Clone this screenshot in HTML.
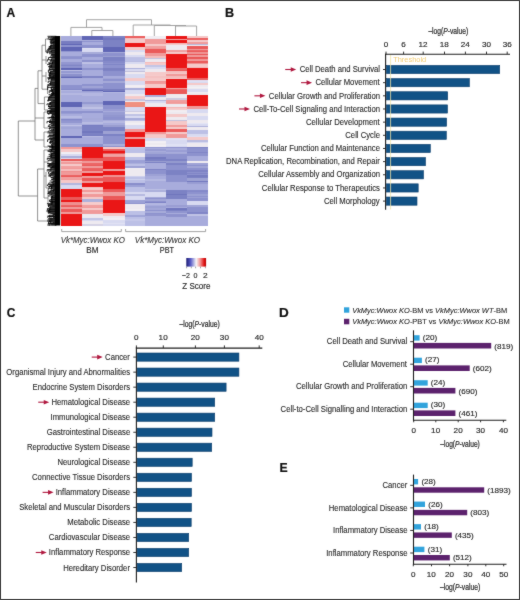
<!DOCTYPE html>
<html><head><meta charset="utf-8"><style>
html,body{margin:0;padding:0;background:#fff;}
#fig{position:relative;width:520px;height:600px;overflow:hidden;background:#fff;}
svg{position:absolute;left:0;top:0;will-change:transform;font-family:"Liberation Sans", sans-serif;}
</style></head><body><div id="fig">
<svg width="520" height="600" viewBox="0 0 520 600">
<defs><filter id="soft" x="0" y="0" width="1" height="1" color-interpolation-filters="sRGB"><feConvolveMatrix order="3" kernelMatrix="1 2 1 2 28 2 1 2 1" divisor="40" edgeMode="duplicate"/></filter></defs>
<g filter="url(#soft)"><rect x="0" y="0" width="520" height="600" fill="#fff"/>
<text x="6.60" y="16.50" font-size="12.4" fill="#111" font-weight="normal" textLength="8.73" lengthAdjust="spacingAndGlyphs" stroke="#111" stroke-width="0.2"><tspan font-style="normal" font-weight="bold">A</tspan></text>
<text x="224.98" y="16.70" font-size="12.4" fill="#111" font-weight="normal" textLength="9.12" lengthAdjust="spacingAndGlyphs" stroke="#111" stroke-width="0.2"><tspan font-style="normal" font-weight="bold">B</tspan></text>
<text x="6.72" y="316.50" font-size="12.4" fill="#111" font-weight="normal" textLength="8.60" lengthAdjust="spacingAndGlyphs" stroke="#111" stroke-width="0.2"><tspan font-style="normal" font-weight="bold">C</tspan></text>
<text x="279.12" y="316.90" font-size="12.4" fill="#111" font-weight="normal" textLength="9.75" lengthAdjust="spacingAndGlyphs" stroke="#111" stroke-width="0.2"><tspan font-style="normal" font-weight="bold">D</tspan></text>
<text x="279.41" y="471.50" font-size="12.4" fill="#111" font-weight="normal" textLength="8.15" lengthAdjust="spacingAndGlyphs" stroke="#111" stroke-width="0.2"><tspan font-style="normal" font-weight="bold">E</tspan></text>
<g shape-rendering="crispEdges">
<rect x="61.00" y="36.00" width="21.00" height="4.60" fill="#a8acdc"/>
<rect x="61.00" y="40.60" width="21.00" height="0.80" fill="#8d92ce"/>
<rect x="61.00" y="41.40" width="21.00" height="3.40" fill="#6066b5"/>
<rect x="61.00" y="41.40" width="21.00" height="2.11" fill="#777cc0"/>
<rect x="61.00" y="44.80" width="21.00" height="2.00" fill="#8d92ce"/>
<rect x="61.00" y="46.80" width="21.00" height="4.00" fill="#6066b5"/>
<rect x="61.00" y="46.80" width="21.00" height="1.55" fill="#5e64b4"/>
<rect x="61.00" y="50.80" width="21.00" height="6.20" fill="#a8acdc"/>
<rect x="61.00" y="50.80" width="21.00" height="1.09" fill="#9297d0"/>
<rect x="61.00" y="56.10" width="21.00" height="0.90" fill="#9196cf"/>
<rect x="61.00" y="57.00" width="21.00" height="2.00" fill="#8d92ce"/>
<rect x="61.00" y="59.00" width="21.00" height="6.00" fill="#a8acdc"/>
<rect x="61.00" y="62.28" width="21.00" height="1.32" fill="#9397d0"/>
<rect x="61.00" y="64.37" width="21.00" height="0.63" fill="#8c91cc"/>
<rect x="61.00" y="65.00" width="21.00" height="2.50" fill="#8d92ce"/>
<rect x="61.00" y="65.00" width="21.00" height="1.00" fill="#8085c6"/>
<rect x="61.00" y="67.50" width="21.00" height="2.00" fill="#6066b5"/>
<rect x="61.00" y="67.50" width="21.00" height="1.56" fill="#5e64b3"/>
<rect x="61.00" y="69.50" width="21.00" height="6.20" fill="#a8acdc"/>
<rect x="61.00" y="69.50" width="21.00" height="1.12" fill="#bdc0e4"/>
<rect x="61.00" y="71.41" width="21.00" height="1.34" fill="#9499d1"/>
<rect x="61.00" y="74.13" width="21.00" height="1.57" fill="#8c91cc"/>
<rect x="61.00" y="75.70" width="21.00" height="2.00" fill="#6066b5"/>
<rect x="61.00" y="75.70" width="21.00" height="1.59" fill="#7e83c3"/>
<rect x="61.00" y="77.70" width="21.00" height="7.00" fill="#a8acdc"/>
<rect x="61.00" y="84.70" width="21.00" height="5.30" fill="#8d92ce"/>
<rect x="61.00" y="89.27" width="21.00" height="0.73" fill="#8388c8"/>
<rect x="61.00" y="90.00" width="21.00" height="12.00" fill="#a8acdc"/>
<rect x="61.00" y="90.00" width="21.00" height="1.02" fill="#b4b8e1"/>
<rect x="61.00" y="92.56" width="21.00" height="2.17" fill="#b5b8e1"/>
<rect x="61.00" y="102.00" width="21.00" height="5.00" fill="#6066b5"/>
<rect x="61.00" y="105.29" width="21.00" height="1.71" fill="#5f65b4"/>
<rect x="61.00" y="107.00" width="21.00" height="4.00" fill="#a8acdc"/>
<rect x="61.00" y="111.00" width="21.00" height="2.00" fill="#8d92ce"/>
<rect x="61.00" y="113.00" width="21.00" height="6.00" fill="#a8acdc"/>
<rect x="61.00" y="113.00" width="21.00" height="1.18" fill="#979cd3"/>
<rect x="61.00" y="116.24" width="21.00" height="1.29" fill="#b8bbe3"/>
<rect x="61.00" y="119.00" width="21.00" height="2.00" fill="#8d92ce"/>
<rect x="61.00" y="119.00" width="21.00" height="1.07" fill="#8489c9"/>
<rect x="61.00" y="121.00" width="21.00" height="6.00" fill="#a8acdc"/>
<rect x="61.00" y="121.00" width="21.00" height="1.63" fill="#9297d0"/>
<rect x="61.00" y="124.71" width="21.00" height="1.66" fill="#c0c3e6"/>
<rect x="61.00" y="127.00" width="21.00" height="2.00" fill="#8d92ce"/>
<rect x="61.00" y="127.00" width="21.00" height="1.89" fill="#a0a5d6"/>
<rect x="61.00" y="129.00" width="21.00" height="7.00" fill="#a8acdc"/>
<rect x="61.00" y="136.00" width="21.00" height="2.00" fill="#6066b5"/>
<rect x="61.00" y="138.00" width="21.00" height="6.00" fill="#a8acdc"/>
<rect x="61.00" y="144.00" width="21.00" height="2.50" fill="#8d92ce"/>
<rect x="61.00" y="146.50" width="21.00" height="2.50" fill="#f09a9a"/>
<rect x="61.00" y="149.00" width="21.00" height="3.20" fill="#f5c9c9"/>
<rect x="61.00" y="152.20" width="21.00" height="2.00" fill="#eeeaf0"/>
<rect x="61.00" y="152.20" width="21.00" height="2.00" fill="#f1eef3"/>
<rect x="61.00" y="154.20" width="21.00" height="4.40" fill="#d8daf1"/>
<rect x="61.00" y="155.96" width="21.00" height="1.84" fill="#abafda"/>
<rect x="61.00" y="158.60" width="21.00" height="1.90" fill="#ea5a5a"/>
<rect x="61.00" y="160.50" width="21.00" height="1.90" fill="#f5c9c9"/>
<rect x="61.00" y="160.50" width="21.00" height="1.90" fill="#f4bbbb"/>
<rect x="61.00" y="162.40" width="21.00" height="1.90" fill="#f09a9a"/>
<rect x="61.00" y="164.30" width="21.00" height="1.90" fill="#f5c9c9"/>
<rect x="61.00" y="166.20" width="21.00" height="3.20" fill="#f09a9a"/>
<rect x="61.00" y="166.20" width="21.00" height="1.93" fill="#f1a1a1"/>
<rect x="61.00" y="169.40" width="21.00" height="1.90" fill="#f5c9c9"/>
<rect x="61.00" y="169.40" width="21.00" height="1.28" fill="#f4bcbc"/>
<rect x="61.00" y="171.30" width="21.00" height="3.20" fill="#f09a9a"/>
<rect x="61.00" y="171.30" width="21.00" height="1.19" fill="#ef8f90"/>
<rect x="61.00" y="174.50" width="21.00" height="2.50" fill="#ea5a5a"/>
<rect x="61.00" y="174.50" width="21.00" height="1.39" fill="#eb6363"/>
<rect x="61.00" y="177.00" width="21.00" height="3.20" fill="#f09a9a"/>
<rect x="61.00" y="177.00" width="21.00" height="2.16" fill="#f1a0a0"/>
<rect x="61.00" y="180.20" width="21.00" height="3.10" fill="#f5c9c9"/>
<rect x="61.00" y="183.30" width="21.00" height="5.70" fill="#d8daf1"/>
<rect x="61.00" y="183.30" width="21.00" height="2.16" fill="#b3b6de"/>
<rect x="61.00" y="189.00" width="21.00" height="7.70" fill="#ea1616"/>
<rect x="61.00" y="196.70" width="21.00" height="3.20" fill="#ea5a5a"/>
<rect x="61.00" y="199.90" width="21.00" height="2.50" fill="#ea1616"/>
<rect x="61.00" y="202.40" width="21.00" height="2.60" fill="#f09a9a"/>
<rect x="61.00" y="202.40" width="21.00" height="2.15" fill="#ef8f8f"/>
<rect x="61.00" y="205.00" width="21.00" height="1.80" fill="#ea5a5a"/>
<rect x="61.00" y="205.00" width="21.00" height="1.05" fill="#eb6363"/>
<rect x="61.00" y="206.80" width="21.00" height="2.60" fill="#f09a9a"/>
<rect x="61.00" y="209.40" width="21.00" height="2.50" fill="#ea5a5a"/>
<rect x="61.00" y="211.90" width="21.00" height="1.90" fill="#f09a9a"/>
<rect x="61.00" y="213.80" width="21.00" height="11.70" fill="#ea1616"/>
<rect x="82.00" y="36.00" width="21.20" height="4.00" fill="#6066b5"/>
<rect x="82.00" y="40.00" width="21.20" height="2.00" fill="#8d92ce"/>
<rect x="82.00" y="40.00" width="21.20" height="1.17" fill="#adb0dc"/>
<rect x="82.00" y="42.00" width="21.20" height="2.80" fill="#a8acdc"/>
<rect x="82.00" y="44.80" width="21.20" height="2.70" fill="#8d92ce"/>
<rect x="82.00" y="47.50" width="21.20" height="4.00" fill="#d8daf1"/>
<rect x="82.00" y="47.50" width="21.20" height="1.12" fill="#e1e3f4"/>
<rect x="82.00" y="51.50" width="21.20" height="5.50" fill="#8d92ce"/>
<rect x="82.00" y="51.50" width="21.20" height="2.12" fill="#a7abd9"/>
<rect x="82.00" y="57.00" width="21.20" height="3.00" fill="#a8acdc"/>
<rect x="82.00" y="60.00" width="21.20" height="2.00" fill="#8d92ce"/>
<rect x="82.00" y="62.00" width="21.20" height="6.00" fill="#a8acdc"/>
<rect x="82.00" y="62.00" width="21.20" height="2.06" fill="#bec1e5"/>
<rect x="82.00" y="68.00" width="21.20" height="2.00" fill="#8d92ce"/>
<rect x="82.00" y="70.00" width="21.20" height="6.00" fill="#a8acdc"/>
<rect x="82.00" y="76.00" width="21.20" height="2.00" fill="#8d92ce"/>
<rect x="82.00" y="76.00" width="21.20" height="1.70" fill="#8085c6"/>
<rect x="82.00" y="78.00" width="21.20" height="6.00" fill="#a8acdc"/>
<rect x="82.00" y="84.00" width="21.20" height="4.70" fill="#8d92ce"/>
<rect x="82.00" y="86.39" width="21.20" height="1.75" fill="#a0a4d6"/>
<rect x="82.00" y="88.70" width="21.20" height="2.70" fill="#6066b5"/>
<rect x="82.00" y="88.70" width="21.20" height="1.18" fill="#8085c4"/>
<rect x="82.00" y="90.65" width="21.20" height="0.75" fill="#767cbf"/>
<rect x="82.00" y="91.40" width="21.20" height="13.60" fill="#a8acdc"/>
<rect x="82.00" y="91.40" width="21.20" height="1.03" fill="#9ca0d5"/>
<rect x="82.00" y="93.49" width="21.20" height="2.01" fill="#b4b7e1"/>
<rect x="82.00" y="102.02" width="21.20" height="1.53" fill="#9398d0"/>
<rect x="82.00" y="105.00" width="21.20" height="2.00" fill="#d8daf1"/>
<rect x="82.00" y="105.00" width="21.20" height="1.75" fill="#aeb1db"/>
<rect x="82.00" y="107.00" width="21.20" height="4.00" fill="#a8acdc"/>
<rect x="82.00" y="107.00" width="21.20" height="2.20" fill="#bfc2e5"/>
<rect x="82.00" y="111.00" width="21.20" height="2.00" fill="#8d92ce"/>
<rect x="82.00" y="113.00" width="21.20" height="5.00" fill="#a8acdc"/>
<rect x="82.00" y="118.00" width="21.20" height="2.00" fill="#8d92ce"/>
<rect x="82.00" y="118.00" width="21.20" height="2.00" fill="#a6aad9"/>
<rect x="82.00" y="120.00" width="21.20" height="5.00" fill="#a8acdc"/>
<rect x="82.00" y="122.31" width="21.20" height="2.15" fill="#b9bde3"/>
<rect x="82.00" y="125.00" width="21.20" height="11.00" fill="#7c82c4"/>
<rect x="82.00" y="125.00" width="21.20" height="1.26" fill="#777dc1"/>
<rect x="82.00" y="131.31" width="21.20" height="1.27" fill="#7177bd"/>
<rect x="82.00" y="134.76" width="21.20" height="1.24" fill="#767cc0"/>
<rect x="82.00" y="136.00" width="21.20" height="8.00" fill="#a8acdc"/>
<rect x="82.00" y="136.00" width="21.20" height="1.11" fill="#b9bce3"/>
<rect x="82.00" y="144.00" width="21.20" height="2.50" fill="#8d92ce"/>
<rect x="82.00" y="146.50" width="21.20" height="11.50" fill="#ea1616"/>
<rect x="82.00" y="158.00" width="21.20" height="2.50" fill="#ea5a5a"/>
<rect x="82.00" y="160.50" width="21.20" height="2.50" fill="#f09a9a"/>
<rect x="82.00" y="163.00" width="21.20" height="2.60" fill="#ea5a5a"/>
<rect x="82.00" y="163.00" width="21.20" height="2.14" fill="#ec6666"/>
<rect x="82.00" y="165.60" width="21.20" height="2.40" fill="#f09a9a"/>
<rect x="82.00" y="168.00" width="21.20" height="2.60" fill="#ea5a5a"/>
<rect x="82.00" y="168.00" width="21.20" height="2.01" fill="#eb6161"/>
<rect x="82.00" y="170.60" width="21.20" height="2.60" fill="#f09a9a"/>
<rect x="82.00" y="173.20" width="21.20" height="2.50" fill="#ea1616"/>
<rect x="82.00" y="175.70" width="21.20" height="2.60" fill="#f09a9a"/>
<rect x="82.00" y="175.70" width="21.20" height="1.42" fill="#f1a0a0"/>
<rect x="82.00" y="178.30" width="21.20" height="2.50" fill="#ea5a5a"/>
<rect x="82.00" y="180.80" width="21.20" height="2.50" fill="#f09a9a"/>
<rect x="82.00" y="183.30" width="21.20" height="3.90" fill="#ea1616"/>
<rect x="82.00" y="187.20" width="21.20" height="2.50" fill="#f5c9c9"/>
<rect x="82.00" y="187.20" width="21.20" height="1.27" fill="#f4bfc0"/>
<rect x="82.00" y="189.70" width="21.20" height="1.90" fill="#f09a9a"/>
<rect x="82.00" y="191.60" width="21.20" height="2.60" fill="#f5c9c9"/>
<rect x="82.00" y="194.20" width="21.20" height="2.50" fill="#f09a9a"/>
<rect x="82.00" y="196.70" width="21.20" height="2.50" fill="#f5c9c9"/>
<rect x="82.00" y="199.20" width="21.20" height="2.60" fill="#d8daf1"/>
<rect x="82.00" y="199.20" width="21.20" height="2.31" fill="#aeb1db"/>
<rect x="82.00" y="201.80" width="21.20" height="3.10" fill="#f5c9c9"/>
<rect x="82.00" y="201.80" width="21.20" height="1.84" fill="#f6cccc"/>
<rect x="82.00" y="204.90" width="21.20" height="2.60" fill="#f09a9a"/>
<rect x="82.00" y="204.90" width="21.20" height="1.84" fill="#f19f9f"/>
<rect x="82.00" y="207.50" width="21.20" height="2.50" fill="#f5c9c9"/>
<rect x="82.00" y="210.00" width="21.20" height="3.80" fill="#f09a9a"/>
<rect x="82.00" y="212.57" width="21.20" height="1.23" fill="#f09d9d"/>
<rect x="82.00" y="213.80" width="21.20" height="4.20" fill="#eeeaf0"/>
<rect x="82.00" y="218.00" width="21.20" height="3.00" fill="#d8daf1"/>
<rect x="82.00" y="218.00" width="21.20" height="2.01" fill="#c3c6e6"/>
<rect x="82.00" y="221.00" width="21.20" height="4.50" fill="#eeeaf0"/>
<rect x="82.00" y="223.97" width="21.20" height="1.53" fill="#d5d3e5"/>
<rect x="103.20" y="36.00" width="21.30" height="10.80" fill="#7c82c4"/>
<rect x="103.20" y="38.34" width="21.30" height="1.22" fill="#7278be"/>
<rect x="103.20" y="46.80" width="21.30" height="4.70" fill="#6066b5"/>
<rect x="103.20" y="51.50" width="21.30" height="4.00" fill="#8d92ce"/>
<rect x="103.20" y="51.50" width="21.30" height="1.87" fill="#a6aad9"/>
<rect x="103.20" y="55.50" width="21.30" height="5.50" fill="#7c82c4"/>
<rect x="103.20" y="55.50" width="21.30" height="1.98" fill="#9ca0d2"/>
<rect x="103.20" y="61.00" width="21.30" height="7.00" fill="#8d92ce"/>
<rect x="103.20" y="61.00" width="21.30" height="2.23" fill="#858ac9"/>
<rect x="103.20" y="64.25" width="21.30" height="1.04" fill="#7f85c6"/>
<rect x="103.20" y="68.00" width="21.30" height="1.50" fill="#6066b5"/>
<rect x="103.20" y="68.00" width="21.30" height="1.50" fill="#7c81c2"/>
<rect x="103.20" y="69.50" width="21.30" height="6.50" fill="#8d92ce"/>
<rect x="103.20" y="69.50" width="21.30" height="1.69" fill="#7d82c4"/>
<rect x="103.20" y="76.00" width="21.30" height="2.00" fill="#a8acdc"/>
<rect x="103.20" y="78.00" width="21.30" height="10.70" fill="#8d92ce"/>
<rect x="103.20" y="78.00" width="21.30" height="1.21" fill="#a0a4d6"/>
<rect x="103.20" y="81.03" width="21.30" height="2.16" fill="#a5a9d8"/>
<rect x="103.20" y="88.70" width="21.30" height="3.30" fill="#6066b5"/>
<rect x="103.20" y="88.70" width="21.30" height="2.15" fill="#797ec0"/>
<rect x="103.20" y="92.00" width="21.30" height="8.80" fill="#a8acdc"/>
<rect x="103.20" y="92.00" width="21.30" height="1.11" fill="#b6bae2"/>
<rect x="103.20" y="100.80" width="21.30" height="4.20" fill="#6066b5"/>
<rect x="103.20" y="103.50" width="21.30" height="1.44" fill="#5f65b4"/>
<rect x="103.20" y="105.00" width="21.30" height="4.00" fill="#8d92ce"/>
<rect x="103.20" y="109.00" width="21.30" height="8.00" fill="#a8acdc"/>
<rect x="103.20" y="109.00" width="21.30" height="1.55" fill="#999dd4"/>
<rect x="103.20" y="112.36" width="21.30" height="2.23" fill="#989dd3"/>
<rect x="103.20" y="115.29" width="21.30" height="1.22" fill="#9196cf"/>
<rect x="103.20" y="117.00" width="21.30" height="2.00" fill="#8d92ce"/>
<rect x="103.20" y="119.00" width="21.30" height="6.00" fill="#a8acdc"/>
<rect x="103.20" y="119.00" width="21.30" height="1.12" fill="#8d92cd"/>
<rect x="103.20" y="120.85" width="21.30" height="1.89" fill="#b6b9e2"/>
<rect x="103.20" y="125.00" width="21.30" height="11.00" fill="#7c82c4"/>
<rect x="103.20" y="125.00" width="21.30" height="1.55" fill="#9a9ed1"/>
<rect x="103.20" y="131.43" width="21.30" height="2.28" fill="#9ea2d3"/>
<rect x="103.20" y="136.00" width="21.30" height="8.00" fill="#8d92ce"/>
<rect x="103.20" y="144.00" width="21.30" height="2.50" fill="#8d92ce"/>
<rect x="103.20" y="144.00" width="21.30" height="2.12" fill="#abafdb"/>
<rect x="103.20" y="146.50" width="21.30" height="2.50" fill="#f5c9c9"/>
<rect x="103.20" y="149.00" width="21.30" height="2.00" fill="#ea5a5a"/>
<rect x="103.20" y="149.00" width="21.30" height="1.45" fill="#eb6161"/>
<rect x="103.20" y="151.00" width="21.30" height="1.50" fill="#ea1616"/>
<rect x="103.20" y="152.50" width="21.30" height="1.70" fill="#ea5a5a"/>
<rect x="103.20" y="154.20" width="21.30" height="2.50" fill="#f09a9a"/>
<rect x="103.20" y="154.20" width="21.30" height="2.05" fill="#f1a2a2"/>
<rect x="103.20" y="156.70" width="21.30" height="3.80" fill="#ea5a5a"/>
<rect x="103.20" y="156.70" width="21.30" height="1.15" fill="#ea5555"/>
<rect x="103.20" y="160.50" width="21.30" height="8.90" fill="#ea1616"/>
<rect x="103.20" y="169.40" width="21.30" height="1.90" fill="#f09a9a"/>
<rect x="103.20" y="171.30" width="21.30" height="3.80" fill="#ea1616"/>
<rect x="103.20" y="175.10" width="21.30" height="1.90" fill="#f09a9a"/>
<rect x="103.20" y="175.10" width="21.30" height="1.90" fill="#ef9292"/>
<rect x="103.20" y="177.00" width="21.30" height="5.00" fill="#ea5a5a"/>
<rect x="103.20" y="182.00" width="21.30" height="7.00" fill="#ea1616"/>
<rect x="103.20" y="189.00" width="21.30" height="3.20" fill="#ea5a5a"/>
<rect x="103.20" y="189.00" width="21.30" height="1.35" fill="#ea5656"/>
<rect x="103.20" y="192.20" width="21.30" height="3.80" fill="#f09a9a"/>
<rect x="103.20" y="196.00" width="21.30" height="3.90" fill="#ea5a5a"/>
<rect x="103.20" y="196.00" width="21.30" height="1.72" fill="#ea5858"/>
<rect x="103.20" y="199.90" width="21.30" height="13.30" fill="#ea1616"/>
<rect x="103.20" y="213.20" width="21.30" height="2.50" fill="#f5c9c9"/>
<rect x="103.20" y="215.70" width="21.30" height="4.30" fill="#eeeaf0"/>
<rect x="103.20" y="218.31" width="21.30" height="1.69" fill="#f1eef3"/>
<rect x="103.20" y="220.00" width="21.30" height="5.50" fill="#d8daf1"/>
<rect x="103.20" y="223.10" width="21.30" height="1.10" fill="#e1e2f4"/>
<rect x="124.50" y="36.00" width="20.50" height="1.50" fill="#ea5a5a"/>
<rect x="124.50" y="36.00" width="20.50" height="1.50" fill="#eb5f5f"/>
<rect x="124.50" y="37.50" width="20.50" height="5.10" fill="#f5c9c9"/>
<rect x="124.50" y="37.50" width="20.50" height="1.99" fill="#f4bdbd"/>
<rect x="124.50" y="42.60" width="20.50" height="4.40" fill="#ea1616"/>
<rect x="124.50" y="47.00" width="20.50" height="2.60" fill="#f5c9c9"/>
<rect x="124.50" y="49.60" width="20.50" height="2.40" fill="#d8daf1"/>
<rect x="124.50" y="52.00" width="20.50" height="3.00" fill="#eeeaf0"/>
<rect x="124.50" y="55.00" width="20.50" height="3.00" fill="#d8daf1"/>
<rect x="124.50" y="57.21" width="20.50" height="0.79" fill="#c0c2e4"/>
<rect x="124.50" y="58.00" width="20.50" height="3.00" fill="#bcc0e6"/>
<rect x="124.50" y="61.00" width="20.50" height="3.00" fill="#d8daf1"/>
<rect x="124.50" y="61.00" width="20.50" height="1.32" fill="#b9bce1"/>
<rect x="124.50" y="64.00" width="20.50" height="4.00" fill="#eeeaf0"/>
<rect x="124.50" y="68.00" width="20.50" height="3.00" fill="#d8daf1"/>
<rect x="124.50" y="68.00" width="20.50" height="1.19" fill="#afb2dc"/>
<rect x="124.50" y="71.00" width="20.50" height="3.00" fill="#eeeaf0"/>
<rect x="124.50" y="71.00" width="20.50" height="1.46" fill="#c1c0dc"/>
<rect x="124.50" y="74.00" width="20.50" height="4.00" fill="#d8daf1"/>
<rect x="124.50" y="78.00" width="20.50" height="3.00" fill="#f5c9c9"/>
<rect x="124.50" y="78.00" width="20.50" height="1.26" fill="#f5cbcb"/>
<rect x="124.50" y="81.00" width="20.50" height="4.00" fill="#d8daf1"/>
<rect x="124.50" y="85.00" width="20.50" height="3.00" fill="#eeeaf0"/>
<rect x="124.50" y="85.00" width="20.50" height="1.86" fill="#f2eef3"/>
<rect x="124.50" y="88.00" width="20.50" height="5.50" fill="#d8daf1"/>
<rect x="124.50" y="88.00" width="20.50" height="1.70" fill="#aaaeda"/>
<rect x="124.50" y="93.50" width="20.50" height="2.50" fill="#eeeaf0"/>
<rect x="124.50" y="96.00" width="20.50" height="3.00" fill="#f5c9c9"/>
<rect x="124.50" y="96.00" width="20.50" height="1.12" fill="#f6cdcd"/>
<rect x="124.50" y="98.24" width="20.50" height="0.76" fill="#f6cdcd"/>
<rect x="124.50" y="99.00" width="20.50" height="3.00" fill="#eeeaf0"/>
<rect x="124.50" y="99.00" width="20.50" height="2.02" fill="#c6c4df"/>
<rect x="124.50" y="102.00" width="20.50" height="5.00" fill="#f09080"/>
<rect x="124.50" y="106.18" width="20.50" height="0.82" fill="#ef897a"/>
<rect x="124.50" y="107.00" width="20.50" height="4.00" fill="#d8daf1"/>
<rect x="124.50" y="111.00" width="20.50" height="3.00" fill="#eeeaf0"/>
<rect x="124.50" y="111.00" width="20.50" height="1.04" fill="#cdcce2"/>
<rect x="124.50" y="114.00" width="20.50" height="4.00" fill="#d8daf1"/>
<rect x="124.50" y="114.00" width="20.50" height="2.03" fill="#c0c3e5"/>
<rect x="124.50" y="118.00" width="20.50" height="3.00" fill="#bcc0e6"/>
<rect x="124.50" y="118.00" width="20.50" height="1.57" fill="#a7acdb"/>
<rect x="124.50" y="121.00" width="20.50" height="4.00" fill="#eeeaf0"/>
<rect x="124.50" y="123.13" width="20.50" height="1.87" fill="#f2eff3"/>
<rect x="124.50" y="125.00" width="20.50" height="4.00" fill="#d8daf1"/>
<rect x="124.50" y="129.00" width="20.50" height="3.40" fill="#f09a9a"/>
<rect x="124.50" y="132.40" width="20.50" height="4.30" fill="#ea1616"/>
<rect x="124.50" y="136.70" width="20.50" height="2.60" fill="#f09a9a"/>
<rect x="124.50" y="139.30" width="20.50" height="7.70" fill="#ea1616"/>
<rect x="124.50" y="147.00" width="20.50" height="6.00" fill="#bcc0e6"/>
<rect x="124.50" y="147.00" width="20.50" height="1.17" fill="#ced1ed"/>
<rect x="124.50" y="153.00" width="20.50" height="4.30" fill="#eeeaf0"/>
<rect x="124.50" y="157.30" width="20.50" height="2.70" fill="#bcc0e6"/>
<rect x="124.50" y="160.00" width="20.50" height="3.00" fill="#9ca1d6"/>
<rect x="124.50" y="163.00" width="20.50" height="4.70" fill="#bcc0e6"/>
<rect x="124.50" y="163.00" width="20.50" height="1.17" fill="#aaafdc"/>
<rect x="124.50" y="165.63" width="20.50" height="2.07" fill="#9ea2d5"/>
<rect x="124.50" y="167.70" width="20.50" height="7.80" fill="#eeeaf0"/>
<rect x="124.50" y="167.70" width="20.50" height="1.24" fill="#f2eff4"/>
<rect x="124.50" y="175.50" width="20.50" height="7.80" fill="#bcc0e6"/>
<rect x="124.50" y="175.50" width="20.50" height="1.66" fill="#cdd0ec"/>
<rect x="124.50" y="178.87" width="20.50" height="1.08" fill="#ced1ed"/>
<rect x="124.50" y="183.30" width="20.50" height="3.70" fill="#9ca1d6"/>
<rect x="124.50" y="183.30" width="20.50" height="1.75" fill="#898ecb"/>
<rect x="124.50" y="187.00" width="20.50" height="5.00" fill="#bcc0e6"/>
<rect x="124.50" y="192.00" width="20.50" height="7.70" fill="#d8daf1"/>
<rect x="124.50" y="194.03" width="20.50" height="1.97" fill="#b7bae0"/>
<rect x="124.50" y="199.70" width="20.50" height="4.30" fill="#9ca1d6"/>
<rect x="124.50" y="203.03" width="20.50" height="0.97" fill="#8e93ce"/>
<rect x="124.50" y="204.00" width="20.50" height="7.00" fill="#eeeaf0"/>
<rect x="124.50" y="208.84" width="20.50" height="1.84" fill="#f1eef3"/>
<rect x="124.50" y="211.00" width="20.50" height="14.50" fill="#bcc0e6"/>
<rect x="124.50" y="215.03" width="20.50" height="2.11" fill="#a0a5d7"/>
<rect x="124.50" y="219.20" width="20.50" height="1.82" fill="#c5c8e9"/>
<rect x="145.00" y="36.00" width="20.60" height="3.20" fill="#eeeaf0"/>
<rect x="145.00" y="36.00" width="20.60" height="1.68" fill="#f1eef3"/>
<rect x="145.00" y="39.20" width="20.60" height="4.30" fill="#f09a9a"/>
<rect x="145.00" y="43.50" width="20.60" height="2.50" fill="#f5c9c9"/>
<rect x="145.00" y="46.00" width="20.60" height="3.20" fill="#f09a9a"/>
<rect x="145.00" y="46.00" width="20.60" height="1.85" fill="#f1a0a0"/>
<rect x="145.00" y="49.20" width="20.60" height="3.50" fill="#ea5a5a"/>
<rect x="145.00" y="52.70" width="20.60" height="3.50" fill="#f09a9a"/>
<rect x="145.00" y="56.20" width="20.60" height="2.00" fill="#f5c9c9"/>
<rect x="145.00" y="56.20" width="20.60" height="1.37" fill="#f4bcbc"/>
<rect x="145.00" y="58.20" width="20.60" height="3.80" fill="#eeeaf0"/>
<rect x="145.00" y="58.20" width="20.60" height="1.25" fill="#c4c3de"/>
<rect x="145.00" y="62.00" width="20.60" height="3.00" fill="#f5c9c9"/>
<rect x="145.00" y="62.00" width="20.60" height="1.04" fill="#f4bcbc"/>
<rect x="145.00" y="65.00" width="20.60" height="4.00" fill="#d8daf1"/>
<rect x="145.00" y="65.00" width="20.60" height="2.11" fill="#c3c6e6"/>
<rect x="145.00" y="69.00" width="20.60" height="3.00" fill="#eeeaf0"/>
<rect x="145.00" y="72.00" width="20.60" height="4.40" fill="#f5c9c9"/>
<rect x="145.00" y="75.12" width="20.60" height="1.28" fill="#f5cbcb"/>
<rect x="145.00" y="76.40" width="20.60" height="4.60" fill="#f5c9c9"/>
<rect x="145.00" y="76.40" width="20.60" height="1.51" fill="#f4c1c1"/>
<rect x="145.00" y="79.72" width="20.60" height="1.28" fill="#f6cccc"/>
<rect x="145.00" y="81.00" width="20.60" height="3.00" fill="#f09a9a"/>
<rect x="145.00" y="81.00" width="20.60" height="1.00" fill="#ef9494"/>
<rect x="145.00" y="84.00" width="20.60" height="3.70" fill="#f5c9c9"/>
<rect x="145.00" y="87.70" width="20.60" height="7.00" fill="#ea1616"/>
<rect x="145.00" y="94.70" width="20.60" height="2.30" fill="#d8daf1"/>
<rect x="145.00" y="94.70" width="20.60" height="2.20" fill="#acafda"/>
<rect x="145.00" y="97.00" width="20.60" height="3.00" fill="#eeeaf0"/>
<rect x="145.00" y="100.00" width="20.60" height="3.00" fill="#d8daf1"/>
<rect x="145.00" y="100.00" width="20.60" height="1.06" fill="#b1b4dd"/>
<rect x="145.00" y="103.00" width="20.60" height="3.80" fill="#eeeaf0"/>
<rect x="145.00" y="106.80" width="20.60" height="25.30" fill="#ea1616"/>
<rect x="145.00" y="132.10" width="20.60" height="1.90" fill="#f09a9a"/>
<rect x="145.00" y="134.00" width="20.60" height="3.60" fill="#f5c9c9"/>
<rect x="145.00" y="134.00" width="20.60" height="1.30" fill="#f4c0c1"/>
<rect x="145.00" y="137.60" width="20.60" height="3.40" fill="#d8daf1"/>
<rect x="145.00" y="141.00" width="20.60" height="6.00" fill="#eeeaf0"/>
<rect x="145.00" y="141.00" width="20.60" height="2.27" fill="#f2eff4"/>
<rect x="145.00" y="144.59" width="20.60" height="2.20" fill="#f2eff4"/>
<rect x="145.00" y="147.00" width="20.60" height="5.00" fill="#a8acdc"/>
<rect x="145.00" y="147.00" width="20.60" height="1.08" fill="#9498d1"/>
<rect x="145.00" y="148.98" width="20.60" height="1.72" fill="#979bd2"/>
<rect x="145.00" y="152.00" width="20.60" height="5.30" fill="#8d92ce"/>
<rect x="145.00" y="152.00" width="20.60" height="1.76" fill="#a0a5d6"/>
<rect x="145.00" y="157.30" width="20.60" height="5.20" fill="#7c82c4"/>
<rect x="145.00" y="157.30" width="20.60" height="1.75" fill="#747abf"/>
<rect x="145.00" y="161.03" width="20.60" height="1.32" fill="#999dd1"/>
<rect x="145.00" y="162.50" width="20.60" height="6.00" fill="#a8acdc"/>
<rect x="145.00" y="168.50" width="20.60" height="7.80" fill="#8d92ce"/>
<rect x="145.00" y="168.50" width="20.60" height="1.92" fill="#7f84c6"/>
<rect x="145.00" y="173.96" width="20.60" height="2.10" fill="#9da1d5"/>
<rect x="145.00" y="176.30" width="20.60" height="6.10" fill="#a8acdc"/>
<rect x="145.00" y="179.04" width="20.60" height="1.98" fill="#b5b9e1"/>
<rect x="145.00" y="182.40" width="20.60" height="7.80" fill="#a8acdc"/>
<rect x="145.00" y="189.25" width="20.60" height="0.95" fill="#bcbfe4"/>
<rect x="145.00" y="190.20" width="20.60" height="6.80" fill="#d8daf1"/>
<rect x="145.00" y="190.20" width="20.60" height="1.55" fill="#acb0db"/>
<rect x="145.00" y="197.00" width="20.60" height="6.00" fill="#8d92ce"/>
<rect x="145.00" y="197.00" width="20.60" height="1.05" fill="#a5a9d8"/>
<rect x="145.00" y="199.07" width="20.60" height="1.94" fill="#a2a6d7"/>
<rect x="145.00" y="202.15" width="20.60" height="0.85" fill="#7d82c5"/>
<rect x="145.00" y="203.00" width="20.60" height="3.00" fill="#a8acdc"/>
<rect x="145.00" y="203.00" width="20.60" height="1.87" fill="#b3b7e1"/>
<rect x="145.00" y="206.00" width="20.60" height="8.40" fill="#8d92ce"/>
<rect x="145.00" y="206.00" width="20.60" height="1.65" fill="#9ba0d4"/>
<rect x="145.00" y="208.47" width="20.60" height="1.71" fill="#a3a7d8"/>
<rect x="145.00" y="210.81" width="20.60" height="1.85" fill="#a7abd9"/>
<rect x="145.00" y="214.40" width="20.60" height="11.10" fill="#a8acdc"/>
<rect x="145.00" y="214.40" width="20.60" height="1.34" fill="#9296cf"/>
<rect x="165.60" y="36.00" width="20.90" height="2.70" fill="#ea1616"/>
<rect x="165.60" y="38.70" width="20.90" height="1.70" fill="#f09a9a"/>
<rect x="165.60" y="38.70" width="20.90" height="1.70" fill="#f19f9f"/>
<rect x="165.60" y="40.40" width="20.90" height="2.40" fill="#ea1616"/>
<rect x="165.60" y="42.80" width="20.90" height="2.30" fill="#f5c9c9"/>
<rect x="165.60" y="42.80" width="20.90" height="1.35" fill="#f3b8b8"/>
<rect x="165.60" y="45.10" width="20.90" height="4.70" fill="#eeeaf0"/>
<rect x="165.60" y="49.80" width="20.90" height="1.70" fill="#f09a9a"/>
<rect x="165.60" y="49.80" width="20.90" height="1.70" fill="#f1a0a0"/>
<rect x="165.60" y="51.50" width="20.90" height="2.90" fill="#f5c9c9"/>
<rect x="165.60" y="54.40" width="20.90" height="13.40" fill="#ea1616"/>
<rect x="165.60" y="67.80" width="20.90" height="3.50" fill="#ea5a5a"/>
<rect x="165.60" y="67.80" width="20.90" height="1.90" fill="#eb6666"/>
<rect x="165.60" y="71.30" width="20.90" height="2.40" fill="#f5c9c9"/>
<rect x="165.60" y="71.30" width="20.90" height="1.26" fill="#f4bfbf"/>
<rect x="165.60" y="73.70" width="20.90" height="2.30" fill="#f09a9a"/>
<rect x="165.60" y="76.00" width="20.90" height="2.90" fill="#f5c9c9"/>
<rect x="165.60" y="76.00" width="20.90" height="1.95" fill="#f4baba"/>
<rect x="165.60" y="78.90" width="20.90" height="8.80" fill="#ea1616"/>
<rect x="165.60" y="87.70" width="20.90" height="1.10" fill="#f09a9a"/>
<rect x="165.60" y="87.70" width="20.90" height="1.10" fill="#f19e9e"/>
<rect x="165.60" y="88.80" width="20.90" height="5.30" fill="#ea5a5a"/>
<rect x="165.60" y="88.80" width="20.90" height="1.57" fill="#eb6565"/>
<rect x="165.60" y="94.10" width="20.90" height="6.30" fill="#eeeaf0"/>
<rect x="165.60" y="98.30" width="20.90" height="2.10" fill="#cdcbe2"/>
<rect x="165.60" y="100.40" width="20.90" height="3.40" fill="#f09a9a"/>
<rect x="165.60" y="100.40" width="20.90" height="1.79" fill="#f19e9e"/>
<rect x="165.60" y="103.16" width="20.90" height="0.64" fill="#f1a0a0"/>
<rect x="165.60" y="103.80" width="20.90" height="3.20" fill="#eeeaf0"/>
<rect x="165.60" y="107.00" width="20.90" height="3.00" fill="#f5c9c9"/>
<rect x="165.60" y="107.00" width="20.90" height="1.01" fill="#f3b7b7"/>
<rect x="165.60" y="108.93" width="20.90" height="1.07" fill="#f5cccc"/>
<rect x="165.60" y="110.00" width="20.90" height="4.00" fill="#eeeaf0"/>
<rect x="165.60" y="110.00" width="20.90" height="1.78" fill="#f1edf2"/>
<rect x="165.60" y="114.00" width="20.90" height="3.00" fill="#f5c9c9"/>
<rect x="165.60" y="117.00" width="20.90" height="4.00" fill="#eeeaf0"/>
<rect x="165.60" y="120.05" width="20.90" height="0.95" fill="#c2c1dd"/>
<rect x="165.60" y="121.00" width="20.90" height="3.60" fill="#f5c9c9"/>
<rect x="165.60" y="124.60" width="20.90" height="2.40" fill="#f09a9a"/>
<rect x="165.60" y="127.00" width="20.90" height="2.00" fill="#f5c9c9"/>
<rect x="165.60" y="129.00" width="20.90" height="3.00" fill="#ea5a5a"/>
<rect x="165.60" y="132.00" width="20.90" height="2.00" fill="#f5c9c9"/>
<rect x="165.60" y="134.00" width="20.90" height="4.40" fill="#f09a9a"/>
<rect x="165.60" y="138.40" width="20.90" height="8.60" fill="#d8daf1"/>
<rect x="165.60" y="138.40" width="20.90" height="1.20" fill="#e0e1f4"/>
<rect x="165.60" y="144.35" width="20.90" height="1.44" fill="#e0e2f4"/>
<rect x="165.60" y="147.00" width="20.90" height="6.00" fill="#a8acdc"/>
<rect x="165.60" y="147.00" width="20.90" height="1.30" fill="#9094ce"/>
<rect x="165.60" y="149.77" width="20.90" height="1.95" fill="#999ed4"/>
<rect x="165.60" y="153.00" width="20.90" height="6.00" fill="#8d92ce"/>
<rect x="165.60" y="153.00" width="20.90" height="1.26" fill="#a4a8d8"/>
<rect x="165.60" y="159.00" width="20.90" height="4.40" fill="#7c82c4"/>
<rect x="165.60" y="161.40" width="20.90" height="2.00" fill="#959acf"/>
<rect x="165.60" y="163.40" width="20.90" height="6.90" fill="#8d92ce"/>
<rect x="165.60" y="163.40" width="20.90" height="1.31" fill="#7c82c4"/>
<rect x="165.60" y="170.30" width="20.90" height="4.30" fill="#7c82c4"/>
<rect x="165.60" y="174.60" width="20.90" height="6.90" fill="#8d92ce"/>
<rect x="165.60" y="181.50" width="20.90" height="8.70" fill="#a8acdc"/>
<rect x="165.60" y="190.20" width="20.90" height="8.60" fill="#7c82c4"/>
<rect x="165.60" y="193.81" width="20.90" height="1.40" fill="#7076bd"/>
<rect x="165.60" y="198.80" width="20.90" height="8.70" fill="#a8acdc"/>
<rect x="165.60" y="204.79" width="20.90" height="2.39" fill="#999dd3"/>
<rect x="165.60" y="207.50" width="20.90" height="3.50" fill="#7c82c4"/>
<rect x="165.60" y="207.50" width="20.90" height="2.11" fill="#7177be"/>
<rect x="165.60" y="211.00" width="20.90" height="14.50" fill="#a8acdc"/>
<rect x="165.60" y="211.00" width="20.90" height="2.39" fill="#9095cf"/>
<rect x="165.60" y="214.39" width="20.90" height="2.13" fill="#8e92cd"/>
<rect x="186.50" y="36.00" width="21.00" height="2.10" fill="#f5c9c9"/>
<rect x="186.50" y="38.10" width="21.00" height="1.70" fill="#ea5a5a"/>
<rect x="186.50" y="38.10" width="21.00" height="1.70" fill="#eb6060"/>
<rect x="186.50" y="39.80" width="21.00" height="2.20" fill="#f5c9c9"/>
<rect x="186.50" y="42.00" width="21.00" height="1.50" fill="#f09a9a"/>
<rect x="186.50" y="42.00" width="21.00" height="1.40" fill="#f09d9d"/>
<rect x="186.50" y="43.50" width="21.00" height="2.20" fill="#eeeaf0"/>
<rect x="186.50" y="43.50" width="21.00" height="1.65" fill="#b9b8d9"/>
<rect x="186.50" y="45.70" width="21.00" height="2.90" fill="#ea5a5a"/>
<rect x="186.50" y="48.60" width="21.00" height="1.70" fill="#f09a9a"/>
<rect x="186.50" y="50.30" width="21.00" height="1.70" fill="#ea5a5a"/>
<rect x="186.50" y="50.30" width="21.00" height="1.02" fill="#ec6666"/>
<rect x="186.50" y="52.00" width="21.00" height="1.50" fill="#f09a9a"/>
<rect x="186.50" y="52.00" width="21.00" height="1.50" fill="#ef9494"/>
<rect x="186.50" y="53.50" width="21.00" height="1.50" fill="#ea5a5a"/>
<rect x="186.50" y="53.50" width="21.00" height="1.50" fill="#ea5657"/>
<rect x="186.50" y="55.00" width="21.00" height="2.00" fill="#f09a9a"/>
<rect x="186.50" y="57.00" width="21.00" height="2.00" fill="#ea5a5a"/>
<rect x="186.50" y="57.00" width="21.00" height="1.01" fill="#e95555"/>
<rect x="186.50" y="59.00" width="21.00" height="1.80" fill="#f09a9a"/>
<rect x="186.50" y="59.00" width="21.00" height="1.43" fill="#ef9495"/>
<rect x="186.50" y="60.80" width="21.00" height="1.70" fill="#ea5a5a"/>
<rect x="186.50" y="62.50" width="21.00" height="1.80" fill="#f09a9a"/>
<rect x="186.50" y="62.50" width="21.00" height="1.19" fill="#ef9292"/>
<rect x="186.50" y="64.30" width="21.00" height="3.50" fill="#f5c9c9"/>
<rect x="186.50" y="66.68" width="21.00" height="1.12" fill="#f4bbbb"/>
<rect x="186.50" y="67.80" width="21.00" height="10.50" fill="#ea1616"/>
<rect x="186.50" y="78.30" width="21.00" height="1.70" fill="#ea5a5a"/>
<rect x="186.50" y="78.30" width="21.00" height="1.70" fill="#eb6262"/>
<rect x="186.50" y="80.00" width="21.00" height="3.00" fill="#d8daf1"/>
<rect x="186.50" y="80.00" width="21.00" height="2.21" fill="#dfe0f3"/>
<rect x="186.50" y="83.00" width="21.00" height="2.00" fill="#f5c9c9"/>
<rect x="186.50" y="85.00" width="21.00" height="4.00" fill="#eeeaf0"/>
<rect x="186.50" y="86.88" width="21.00" height="1.51" fill="#f3f0f4"/>
<rect x="186.50" y="89.00" width="21.00" height="3.30" fill="#d8daf1"/>
<rect x="186.50" y="92.30" width="21.00" height="2.40" fill="#eeeaf0"/>
<rect x="186.50" y="92.30" width="21.00" height="1.10" fill="#f1eef3"/>
<rect x="186.50" y="94.70" width="21.00" height="11.70" fill="#ea1616"/>
<rect x="186.50" y="106.40" width="21.00" height="2.60" fill="#f09a9a"/>
<rect x="186.50" y="109.00" width="21.00" height="4.00" fill="#d8daf1"/>
<rect x="186.50" y="113.00" width="21.00" height="3.00" fill="#eeeaf0"/>
<rect x="186.50" y="116.00" width="21.00" height="4.00" fill="#d8daf1"/>
<rect x="186.50" y="120.00" width="21.00" height="3.00" fill="#eeeaf0"/>
<rect x="186.50" y="123.00" width="21.00" height="4.00" fill="#d8daf1"/>
<rect x="186.50" y="123.00" width="21.00" height="1.22" fill="#e3e4f5"/>
<rect x="186.50" y="126.25" width="21.00" height="0.75" fill="#b0b3dc"/>
<rect x="186.50" y="127.00" width="21.00" height="2.80" fill="#eeeaf0"/>
<rect x="186.50" y="129.80" width="21.00" height="3.20" fill="#bcc0e6"/>
<rect x="186.50" y="133.00" width="21.00" height="4.00" fill="#d8daf1"/>
<rect x="186.50" y="133.00" width="21.00" height="1.43" fill="#bec1e4"/>
<rect x="186.50" y="135.69" width="21.00" height="1.08" fill="#dedff3"/>
<rect x="186.50" y="137.00" width="21.00" height="3.00" fill="#f5c9c9"/>
<rect x="186.50" y="140.00" width="21.00" height="3.00" fill="#d8daf1"/>
<rect x="186.50" y="140.00" width="21.00" height="1.71" fill="#babde1"/>
<rect x="186.50" y="143.00" width="21.00" height="4.00" fill="#eeeaf0"/>
<rect x="186.50" y="147.00" width="21.00" height="8.60" fill="#8d92ce"/>
<rect x="186.50" y="147.00" width="21.00" height="1.01" fill="#7d83c5"/>
<rect x="186.50" y="151.62" width="21.00" height="1.15" fill="#8186c7"/>
<rect x="186.50" y="155.60" width="21.00" height="5.20" fill="#a8acdc"/>
<rect x="186.50" y="160.80" width="21.00" height="2.60" fill="#eeeaf0"/>
<rect x="186.50" y="163.40" width="21.00" height="6.60" fill="#8d92ce"/>
<rect x="186.50" y="163.40" width="21.00" height="1.88" fill="#9fa3d6"/>
<rect x="186.50" y="166.01" width="21.00" height="2.11" fill="#a1a5d6"/>
<rect x="186.50" y="170.00" width="21.00" height="4.60" fill="#8d92ce"/>
<rect x="186.50" y="170.00" width="21.00" height="1.54" fill="#7e83c5"/>
<rect x="186.50" y="173.28" width="21.00" height="1.05" fill="#8085c6"/>
<rect x="186.50" y="174.60" width="21.00" height="7.80" fill="#7c82c4"/>
<rect x="186.50" y="174.60" width="21.00" height="2.03" fill="#777dc1"/>
<rect x="186.50" y="178.18" width="21.00" height="2.35" fill="#9da2d3"/>
<rect x="186.50" y="181.46" width="21.00" height="0.94" fill="#7379bf"/>
<rect x="186.50" y="182.40" width="21.00" height="7.80" fill="#a8acdc"/>
<rect x="186.50" y="182.40" width="21.00" height="2.06" fill="#989dd3"/>
<rect x="186.50" y="190.20" width="21.00" height="10.30" fill="#8d92ce"/>
<rect x="186.50" y="190.20" width="21.00" height="1.52" fill="#8489c9"/>
<rect x="186.50" y="193.90" width="21.00" height="2.16" fill="#9da2d5"/>
<rect x="186.50" y="196.91" width="21.00" height="1.40" fill="#9ca0d4"/>
<rect x="186.50" y="200.50" width="21.00" height="4.50" fill="#d8daf1"/>
<rect x="186.50" y="205.00" width="21.00" height="9.40" fill="#8d92ce"/>
<rect x="186.50" y="205.00" width="21.00" height="1.81" fill="#a2a6d7"/>
<rect x="186.50" y="211.60" width="21.00" height="2.09" fill="#8186c7"/>
<rect x="186.50" y="214.40" width="21.00" height="11.10" fill="#a8acdc"/>
<rect x="186.50" y="214.40" width="21.00" height="1.61" fill="#bfc2e5"/>
</g>
<path d="M70.9,36 V27.4 H102 V30.5 M91.8,36 V30.5 H112.9 V36 M86.5,27.4 V19.7 H151.5 V25 M133.2,36 V25 H170.5 M154.3,36 V25.5 H186 M175.5,36 V26 H196.6 V36 M170.5,25 V25.5" fill="none" stroke="#9a9a9a" stroke-width="0.9"/>
<path d="M35,121 H18.3 V196 H37.6 M35,88.4 V140 M35,88.4 H38 M38,70.8 V103.6 M38,70.8 H42 M42,45.2 V89.2 M42,45.2 H45.5 M45.5,39 V52 M45.5,39 H48 M45.5,52 H48 M42,89.2 H47.6 M47.6,84 V94 M38,103.6 H44.4 M44.4,97 V110 M44.4,97 H48 M44.4,110 H48 M35,118 H44 M44,112 V128 M44,112 H48 M44,128 H48 M35,140 H44 M44,132 V147 M44,132 H48 M44,147 H48 M42,60 H46 M46,56 V64 M42,76 H46 M46,72 V82 M37.6,169 V221 M37.6,169 H44 M44,150 V198 M44,150 H51 M44,198 H48 M48,190 V206 M37.6,221 H51 M51,216 V225 M44,162 H48 M48,156 V168 M44,176 H46 M46,172 V188 M46,188 H49 M48,206 H50" fill="none" stroke="#6e6e6e" stroke-width="0.75"/>
<defs><linearGradient id="zs" x1="0" x2="1" y1="0" y2="0"><stop offset="0" stop-color="#1c1c74"/><stop offset="0.22" stop-color="#5a5cc6"/><stop offset="0.5" stop-color="#f8f6f8"/><stop offset="0.72" stop-color="#f08a8a"/><stop offset="0.9" stop-color="#e01414"/><stop offset="1" stop-color="#b80606"/></linearGradient></defs>
<path d="M47.51,36.30 H56.4 M50.88,36.92 H56.4 M48.27,37.32 H56.4 M48.27,37.32 v2.46 M52.85,37.88 H56.4 M52.85,37.88 v2.23 M53.39,38.29 H56.4 M49.30,38.72 H56.4 M50.81,39.16 H56.4 M50.81,39.16 v1.72 M49.00,39.60 H56.4 M51.20,40.24 H56.4 M51.20,40.24 v1.63 M51.29,40.83 H56.4 M49.75,41.36 H56.4 M53.26,41.72 H56.4 M53.26,41.72 v1.49 M49.86,42.48 H56.4 M51.15,42.88 H56.4 M51.15,42.88 v2.96 M50.31,43.34 H56.4 M52.46,43.96 H56.4 M52.47,44.67 H56.4 M50.69,45.29 H56.4 M50.69,45.29 v1.84 M50.65,45.66 H56.4 M50.65,45.66 v2.46 M49.04,46.49 H56.4 M49.04,46.49 v1.12 M52.98,47.05 H56.4 M49.21,47.63 H56.4 M49.21,47.63 v2.80 M49.80,48.03 H56.4 M48.26,48.47 H56.4 M48.26,48.47 v2.57 M49.41,49.21 H56.4 M46.96,49.89 H56.4 M46.96,49.89 v2.89 M51.37,50.57 H56.4 M51.37,50.57 v1.55 M49.38,51.06 H56.4 M47.37,51.78 H56.4 M47.37,51.78 v1.73 M48.46,52.30 H56.4 M51.33,52.89 H56.4 M48.99,53.71 H56.4 M51.32,54.37 H56.4 M50.86,54.81 H56.4 M51.07,55.25 H56.4 M51.07,55.25 v1.07 M52.26,55.83 H56.4 M52.35,56.37 H56.4 M49.75,56.99 H56.4 M48.53,57.51 H56.4 M48.53,57.51 v2.13 M50.93,58.13 H56.4 M51.57,58.96 H56.4 M51.57,58.96 v1.65 M47.27,59.77 H56.4 M47.27,59.77 v1.86 M52.53,60.23 H56.4 M49.91,60.71 H56.4 M49.83,61.22 H56.4 M52.52,61.79 H56.4 M52.52,61.79 v2.12 M51.98,62.26 H56.4 M48.35,62.75 H56.4 M49.05,63.55 H56.4 M49.05,63.55 v1.59 M47.66,64.17 H56.4 M47.66,64.17 v1.01 M51.34,64.79 H56.4 M51.34,64.79 v2.56 M49.28,65.36 H56.4 M49.35,66.13 H56.4 M49.35,66.13 v2.52 M48.15,66.63 H56.4 M49.96,67.44 H56.4 M49.75,68.05 H56.4 M49.75,68.05 v2.64 M51.41,68.80 H56.4 M49.24,69.50 H56.4 M48.42,69.91 H56.4 M48.42,69.91 v2.22 M52.92,70.46 H56.4 M49.69,71.19 H56.4 M50.46,71.60 H56.4 M50.46,71.60 v2.31 M48.19,72.41 H56.4 M49.11,73.22 H56.4 M49.11,73.22 v2.67 M48.98,73.71 H56.4 M49.64,74.15 H56.4 M49.64,74.15 v2.73 M50.23,74.75 H56.4 M50.23,74.75 v2.06 M48.86,75.37 H56.4 M53.05,75.83 H56.4 M53.05,75.83 v2.25 M50.40,76.36 H56.4 M49.01,76.90 H56.4 M49.01,76.90 v2.70 M49.68,77.51 H56.4 M49.68,77.51 v1.07 M47.09,77.95 H56.4 M48.73,78.30 H56.4 M48.73,78.30 v1.92 M51.19,78.75 H56.4 M51.19,78.75 v1.51 M50.54,79.24 H56.4 M51.14,79.76 H56.4 M51.05,80.34 H56.4 M51.05,80.34 v1.48 M48.18,81.19 H56.4 M48.18,81.19 v1.80 M50.46,82.03 H56.4 M50.46,82.03 v2.99 M51.07,82.61 H56.4 M49.72,83.18 H56.4 M49.72,83.18 v1.09 M50.43,83.80 H56.4 M48.49,84.27 H56.4 M48.49,84.27 v1.10 M50.63,84.82 H56.4 M47.81,85.61 H56.4 M47.81,85.61 v2.06 M52.46,86.00 H56.4 M51.35,86.78 H56.4 M51.35,86.78 v2.54 M47.63,87.39 H56.4 M47.63,87.39 v2.65 M50.46,87.85 H56.4 M53.01,88.36 H56.4 M51.40,89.19 H56.4 M51.40,89.19 v1.40 M51.10,89.68 H56.4 M51.10,89.68 v2.54 M52.54,90.03 H56.4 M52.54,90.03 v2.63 M49.22,90.71 H56.4 M49.22,90.71 v2.61 M50.48,91.34 H56.4 M53.21,91.83 H56.4 M53.21,91.83 v2.94 M52.09,92.60 H56.4 M52.09,92.60 v1.86 M52.41,93.13 H56.4 M50.89,93.53 H56.4 M52.11,94.09 H56.4 M52.11,94.09 v1.87 M48.59,94.66 H56.4 M50.96,95.07 H56.4 M50.96,95.07 v2.15 M50.22,95.66 H56.4 M49.11,96.16 H56.4 M49.11,96.16 v1.50 M48.85,97.00 H56.4 M48.85,97.00 v1.29 M48.71,97.47 H56.4 M48.71,97.47 v2.84 M48.49,98.22 H56.4 M48.36,98.97 H56.4 M48.07,99.72 H56.4 M48.07,99.72 v1.95 M47.45,100.43 H56.4 M52.96,100.81 H56.4 M51.17,101.42 H56.4 M50.58,102.20 H56.4 M50.58,102.20 v2.43 M49.39,102.59 H56.4 M49.27,103.35 H56.4 M49.27,103.35 v1.24 M46.99,103.88 H56.4 M46.99,103.88 v1.36 M48.67,104.55 H56.4 M48.67,104.55 v2.69 M51.34,105.35 H56.4 M51.34,105.35 v1.61 M49.40,105.83 H56.4 M49.40,105.83 v1.37 M47.98,106.51 H56.4 M49.81,107.07 H56.4 M49.81,107.07 v1.17 M50.13,107.86 H56.4 M48.12,108.51 H56.4 M49.49,109.03 H56.4 M50.85,109.54 H56.4 M49.90,110.20 H56.4 M49.90,110.20 v1.19 M47.63,110.62 H56.4 M47.63,110.62 v2.54 M50.72,111.06 H56.4 M50.72,111.06 v2.63 M47.23,111.51 H56.4 M49.88,111.98 H56.4 M48.87,112.40 H56.4 M48.87,112.40 v2.52 M51.05,113.11 H56.4 M47.18,113.56 H56.4 M51.67,114.30 H56.4 M52.14,114.68 H56.4 M52.14,114.68 v2.93 M52.10,115.30 H56.4 M52.10,115.30 v1.71 M53.38,116.06 H56.4 M53.38,116.06 v2.12 M50.80,116.89 H56.4 M49.06,117.46 H56.4 M49.06,117.46 v1.04 M47.32,117.89 H56.4 M51.33,118.56 H56.4 M52.10,119.32 H56.4 M50.13,119.74 H56.4 M50.13,119.74 v1.84 M51.99,120.23 H56.4 M49.34,120.96 H56.4 M47.02,121.41 H56.4 M47.02,121.41 v1.94 M49.54,121.79 H56.4 M49.54,121.79 v1.26 M49.02,122.47 H56.4 M50.20,122.96 H56.4 M50.79,123.54 H56.4 M53.00,124.25 H56.4 M53.00,124.25 v1.42 M48.98,124.72 H56.4 M48.98,124.72 v2.38 M51.07,125.51 H56.4 M47.76,126.32 H56.4 M52.49,127.17 H56.4 M49.60,127.54 H56.4 M49.60,127.54 v2.10 M48.42,128.31 H56.4 M53.27,128.94 H56.4 M53.27,128.94 v1.68 M50.97,129.70 H56.4 M49.51,130.36 H56.4 M48.12,131.15 H56.4 M48.12,131.15 v2.48 M51.27,131.78 H56.4 M48.66,132.45 H56.4 M52.74,133.11 H56.4 M48.99,133.76 H56.4 M53.19,134.47 H56.4 M53.19,134.47 v1.61 M48.93,135.04 H56.4 M49.11,135.63 H56.4 M49.11,135.63 v1.18 M48.04,136.15 H56.4 M48.04,136.15 v1.39 M49.89,136.96 H56.4 M52.60,137.38 H56.4 M49.05,138.06 H56.4 M48.86,138.51 H56.4 M51.05,139.18 H56.4 M51.05,139.18 v2.74 M47.57,139.67 H56.4 M47.57,139.67 v2.27 M52.62,140.39 H56.4 M52.62,140.39 v1.59 M50.40,140.91 H56.4 M50.40,140.91 v2.89 M49.88,141.65 H56.4 M49.88,141.65 v1.84 M49.45,142.47 H56.4 M52.00,143.29 H56.4 M51.44,143.69 H56.4 M51.44,143.69 v2.10 M52.12,144.53 H56.4 M52.12,144.53 v2.27 M52.42,145.34 H56.4 M52.42,145.34 v2.71 M47.51,146.01 H56.4 M48.49,146.50 H56.4 M52.79,146.92 H56.4 M52.79,146.92 v1.47 M49.24,147.39 H56.4 M51.08,147.82 H56.4 M51.77,148.52 H56.4 M51.77,148.52 v2.18 M48.78,149.19 H56.4 M49.83,149.57 H56.4 M51.43,149.98 H56.4 M51.43,149.98 v1.32 M47.43,150.82 H56.4 M47.77,151.34 H56.4 M49.44,151.69 H56.4 M53.27,152.46 H56.4 M49.88,152.90 H56.4 M51.47,153.44 H56.4 M51.47,153.44 v1.47 M50.61,153.82 H56.4 M48.57,154.36 H56.4 M51.39,155.15 H56.4 M51.39,155.15 v2.53 M50.08,155.56 H56.4 M50.08,155.56 v1.15 M48.50,156.29 H56.4 M49.55,157.00 H56.4 M50.38,157.45 H56.4 M52.21,157.89 H56.4 M47.22,158.43 H56.4 M47.22,158.43 v1.26 M49.08,159.23 H56.4 M50.82,159.93 H56.4 M47.93,160.67 H56.4 M52.79,161.39 H56.4 M52.79,161.39 v2.07 M51.12,162.16 H56.4 M52.85,162.82 H56.4 M47.20,163.53 H56.4 M49.72,163.92 H56.4 M49.72,163.92 v2.77 M48.91,164.40 H56.4 M48.91,164.40 v1.79 M50.47,165.03 H56.4 M47.90,165.41 H56.4 M47.90,165.41 v1.16 M52.88,165.92 H56.4 M52.88,165.92 v2.36 M47.98,166.34 H56.4 M51.86,166.71 H56.4 M51.86,166.71 v2.23 M50.49,167.34 H56.4 M49.42,167.73 H56.4 M50.77,168.12 H56.4 M50.77,168.12 v2.66 M53.29,168.72 H56.4 M47.23,169.52 H56.4 M47.23,169.52 v2.01 M47.93,170.29 H56.4 M53.03,171.11 H56.4 M53.03,171.11 v1.73 M48.56,171.76 H56.4 M48.56,171.76 v2.14 M51.26,172.40 H56.4 M51.43,172.90 H56.4 M49.71,173.51 H56.4 M48.94,174.28 H56.4 M48.94,174.28 v1.88 M50.64,174.77 H56.4 M50.64,174.77 v2.71 M49.16,175.62 H56.4 M49.16,175.62 v1.36 M53.37,176.46 H56.4 M51.56,177.03 H56.4 M51.56,177.03 v1.39 M51.33,177.58 H56.4 M52.48,178.32 H56.4 M52.81,178.68 H56.4 M52.81,178.68 v1.45 M51.04,179.52 H56.4 M53.07,180.25 H56.4 M49.65,180.99 H56.4 M52.89,181.47 H56.4 M52.89,181.47 v2.93 M51.10,182.23 H56.4 M48.75,182.95 H56.4 M48.75,182.95 v1.97 M53.39,183.64 H56.4 M53.39,183.64 v1.48 M49.31,184.30 H56.4 M47.38,184.83 H56.4 M47.38,184.83 v1.30 M50.72,185.18 H56.4 M50.72,185.18 v1.47 M51.46,185.72 H56.4 M51.46,185.72 v2.84 M49.29,186.13 H56.4 M49.29,186.13 v1.88 M48.13,186.64 H56.4 M51.48,187.32 H56.4 M51.48,187.32 v2.12 M50.46,187.98 H56.4 M48.26,188.63 H56.4 M48.26,188.63 v1.20 M53.34,189.44 H56.4 M53.34,189.44 v2.43 M50.59,189.93 H56.4 M50.71,190.60 H56.4 M50.71,190.60 v1.52 M47.90,191.19 H56.4 M48.71,192.00 H56.4 M48.71,192.00 v2.01 M48.80,192.69 H56.4 M47.42,193.37 H56.4 M51.04,194.01 H56.4 M51.04,194.01 v1.96 M48.97,194.78 H56.4 M48.97,194.78 v2.13 M52.43,195.63 H56.4 M52.43,195.63 v1.89 M51.45,196.21 H56.4 M51.45,196.21 v2.23 M50.52,196.91 H56.4 M51.04,197.48 H56.4 M51.49,198.17 H56.4 M51.49,198.17 v1.99 M51.25,198.84 H56.4 M51.25,198.84 v2.98 M51.75,199.30 H56.4 M49.69,199.77 H56.4 M49.69,199.77 v1.83 M52.09,200.23 H56.4 M52.09,200.23 v2.54 M49.02,201.05 H56.4 M49.77,201.52 H56.4 M52.08,201.93 H56.4 M52.08,201.93 v2.89 M50.13,202.30 H56.4 M51.14,202.91 H56.4 M51.14,202.91 v1.93 M46.94,203.71 H56.4 M48.51,204.20 H56.4 M48.51,204.20 v2.90 M49.07,204.79 H56.4 M49.07,204.79 v2.17 M49.32,205.46 H56.4 M52.30,206.07 H56.4 M49.99,206.63 H56.4 M49.94,207.11 H56.4 M49.94,207.11 v2.78 M49.26,207.75 H56.4 M47.39,208.43 H56.4 M47.39,208.43 v1.70 M49.23,209.12 H56.4 M49.23,209.12 v2.57 M48.80,209.54 H56.4 M48.80,209.54 v2.96 M47.10,210.05 H56.4 M47.10,210.05 v2.03 M48.34,210.73 H56.4 M48.34,210.73 v1.69 M49.85,211.17 H56.4 M49.85,211.17 v2.67 M49.26,211.63 H56.4 M47.64,212.02 H56.4 M48.41,212.71 H56.4 M48.41,212.71 v1.07 M50.35,213.54 H56.4 M52.42,214.04 H56.4 M53.14,214.56 H56.4 M53.14,214.56 v2.21 M49.36,215.16 H56.4 M49.36,215.16 v2.58 M47.53,215.97 H56.4 M47.78,216.38 H56.4 M47.78,216.38 v1.51 M49.38,216.74 H56.4 M53.06,217.53 H56.4 M49.30,218.37 H56.4 M48.05,218.79 H56.4 M48.05,218.79 v2.44 M48.71,219.30 H56.4 M49.57,219.98 H56.4 M49.57,219.98 v1.81 M50.32,220.65 H56.4 M50.32,220.65 v2.20 M47.36,221.16 H56.4 M48.56,221.83 H56.4 M48.56,221.83 v2.46 M53.01,222.35 H56.4 M53.01,222.35 v1.26 M49.40,223.08 H56.4 M48.09,223.48 H56.4 M48.09,223.48 v2.46 M49.21,224.05 H56.4 M49.21,224.05 v1.74 M51.35,224.73 H56.4 M49.14,225.14 H56.4" stroke="#000" stroke-width="0.8" fill="none"/>
<rect x="54.8" y="36" width="5.4" height="189.5" fill="#000"/>
<path d="M61.7,229 V231.6 H121.3 V229 M125.6,229 V231.6 H205.6 V229" fill="none" stroke="#999" stroke-width="0.9"/>
<text x="60.73" y="243.00" font-size="8.4" fill="#383838" font-weight="normal" textLength="64.08" lengthAdjust="spacingAndGlyphs" stroke="#383838" stroke-width="0.12"><tspan font-style="italic">Vk*Myc:Wwox KO</tspan></text>
<text x="86.25" y="252.50" font-size="8.3" fill="#2b2b2b" font-weight="normal" textLength="12.14" lengthAdjust="spacingAndGlyphs" stroke="#2b2b2b" stroke-width="0.16"><tspan font-style="normal">BM</tspan></text>
<text x="134.82" y="243.00" font-size="8.4" fill="#383838" font-weight="normal" textLength="65.20" lengthAdjust="spacingAndGlyphs" stroke="#383838" stroke-width="0.12"><tspan font-style="italic">Vk*Myc:Wwox KO</tspan></text>
<text x="159.81" y="252.50" font-size="8.3" fill="#2b2b2b" font-weight="normal" textLength="14.23" lengthAdjust="spacingAndGlyphs" stroke="#2b2b2b" stroke-width="0.16"><tspan font-style="normal">PBT</tspan></text>
<rect x="186.3" y="258" width="19.8" height="8.6" fill="url(#zs)"/>
<line x1="186.6" y1="266.6" x2="186.6" y2="268.3" stroke="#666" stroke-width="0.6"/>
<line x1="191.3" y1="266.6" x2="191.3" y2="268.3" stroke="#666" stroke-width="0.6"/>
<line x1="195.6" y1="266.6" x2="195.6" y2="268.3" stroke="#666" stroke-width="0.6"/>
<line x1="200.5" y1="266.6" x2="200.5" y2="268.3" stroke="#666" stroke-width="0.6"/>
<line x1="205.4" y1="266.6" x2="205.4" y2="268.3" stroke="#666" stroke-width="0.6"/>
<text x="181.95" y="277.60" font-size="7.9" fill="#2b2b2b" font-weight="normal" textLength="8.00" lengthAdjust="spacingAndGlyphs" stroke="#2b2b2b" stroke-width="0.16"><tspan font-style="normal">−2</tspan></text>
<text x="193.52" y="277.60" font-size="7.9" fill="#2b2b2b" font-weight="normal" textLength="3.94" lengthAdjust="spacingAndGlyphs" stroke="#2b2b2b" stroke-width="0.16"><tspan font-style="normal">0</tspan></text>
<text x="203.08" y="277.60" font-size="7.9" fill="#2b2b2b" font-weight="normal" textLength="4.64" lengthAdjust="spacingAndGlyphs" stroke="#2b2b2b" stroke-width="0.16"><tspan font-style="normal">2</tspan></text>
<text x="182.36" y="288.70" font-size="8.2" fill="#2b2b2b" font-weight="normal" textLength="28.01" lengthAdjust="spacingAndGlyphs" stroke="#2b2b2b" stroke-width="0.16"><tspan font-style="normal">Z Score</tspan></text>
<text x="428.40" y="33.90" font-size="8.3" fill="#2b2b2b" font-weight="normal" textLength="39.82" lengthAdjust="spacingAndGlyphs" stroke="#2b2b2b" stroke-width="0.22"><tspan font-style="normal">–log(</tspan><tspan font-style="italic">P</tspan><tspan font-style="normal">-value)</tspan></text>
<text x="383.73" y="46.50" font-size="7.5" fill="#2b2b2b" font-weight="normal" textLength="4.50" lengthAdjust="spacingAndGlyphs" stroke="#2b2b2b" stroke-width="0.16"><tspan font-style="normal">0</tspan></text>
<line x1="386" y1="51.6" x2="386" y2="54.2" stroke="#1e1e1e" stroke-width="0.9"/>
<text x="401.31" y="46.50" font-size="7.5" fill="#2b2b2b" font-weight="normal" textLength="4.50" lengthAdjust="spacingAndGlyphs" stroke="#2b2b2b" stroke-width="0.16"><tspan font-style="normal">6</tspan></text>
<line x1="403.6" y1="51.6" x2="403.6" y2="54.2" stroke="#1e1e1e" stroke-width="0.9"/>
<text x="418.60" y="46.50" font-size="7.5" fill="#2b2b2b" font-weight="normal" textLength="9.01" lengthAdjust="spacingAndGlyphs" stroke="#2b2b2b" stroke-width="0.16"><tspan font-style="normal">12</tspan></text>
<line x1="423.2" y1="51.6" x2="423.2" y2="54.2" stroke="#1e1e1e" stroke-width="0.9"/>
<text x="439.86" y="46.50" font-size="7.5" fill="#2b2b2b" font-weight="normal" textLength="9.01" lengthAdjust="spacingAndGlyphs" stroke="#2b2b2b" stroke-width="0.16"><tspan font-style="normal">18</tspan></text>
<line x1="444.5" y1="51.6" x2="444.5" y2="54.2" stroke="#1e1e1e" stroke-width="0.9"/>
<text x="460.82" y="46.50" font-size="7.5" fill="#2b2b2b" font-weight="normal" textLength="9.01" lengthAdjust="spacingAndGlyphs" stroke="#2b2b2b" stroke-width="0.16"><tspan font-style="normal">24</tspan></text>
<line x1="465.4" y1="51.6" x2="465.4" y2="54.2" stroke="#1e1e1e" stroke-width="0.9"/>
<text x="481.98" y="46.50" font-size="7.5" fill="#2b2b2b" font-weight="normal" textLength="9.01" lengthAdjust="spacingAndGlyphs" stroke="#2b2b2b" stroke-width="0.16"><tspan font-style="normal">30</tspan></text>
<line x1="486.5" y1="51.6" x2="486.5" y2="54.2" stroke="#1e1e1e" stroke-width="0.9"/>
<text x="502.70" y="46.50" font-size="7.5" fill="#2b2b2b" font-weight="normal" textLength="9.01" lengthAdjust="spacingAndGlyphs" stroke="#2b2b2b" stroke-width="0.16"><tspan font-style="normal">36</tspan></text>
<line x1="507.2" y1="51.6" x2="507.2" y2="54.2" stroke="#1e1e1e" stroke-width="0.9"/>
<line x1="385.1" y1="54.2" x2="510" y2="54.2" stroke="#1e1e1e" stroke-width="1.1"/>
<line x1="385.6" y1="53.7" x2="385.6" y2="209.8" stroke="#1e1e1e" stroke-width="1.1"/>
<rect x="386.40" y="65.40" width="113.30" height="8.20" fill="#115286" stroke="#0c3e6c" stroke-width="0.6"/>
<line x1="383" y1="69.5" x2="385.6" y2="69.5" stroke="#1e1e1e" stroke-width="0.9"/>
<text x="299.64" y="72.20" font-size="8.2" fill="#2b2b2b" font-weight="normal" textLength="80.46" lengthAdjust="spacingAndGlyphs" stroke="#2b2b2b" stroke-width="0.12"><tspan font-style="normal">Cell Death and Survival</tspan></text>
<line x1="285.22" y1="69.50" x2="292.22" y2="69.50" stroke="#b0183f" stroke-width="1.1"/>
<path d="M290.72,67.20 L296.22,69.50 L290.72,71.80 Z" fill="#b0183f"/>
<rect x="386.40" y="78.56" width="83.00" height="8.20" fill="#115286" stroke="#0c3e6c" stroke-width="0.6"/>
<line x1="383" y1="82.66" x2="385.6" y2="82.66" stroke="#1e1e1e" stroke-width="0.9"/>
<text x="315.46" y="85.36" font-size="8.2" fill="#2b2b2b" font-weight="normal" textLength="64.19" lengthAdjust="spacingAndGlyphs" stroke="#2b2b2b" stroke-width="0.12"><tspan font-style="normal">Cellular Movement</tspan></text>
<line x1="301.04" y1="82.66" x2="308.04" y2="82.66" stroke="#b0183f" stroke-width="1.1"/>
<path d="M306.54,80.36 L312.04,82.66 L306.54,84.96 Z" fill="#b0183f"/>
<rect x="386.40" y="91.72" width="61.30" height="8.20" fill="#115286" stroke="#0c3e6c" stroke-width="0.6"/>
<line x1="383" y1="95.82" x2="385.6" y2="95.82" stroke="#1e1e1e" stroke-width="0.9"/>
<text x="268.84" y="98.52" font-size="8.2" fill="#2b2b2b" font-weight="normal" textLength="111.28" lengthAdjust="spacingAndGlyphs" stroke="#2b2b2b" stroke-width="0.12"><tspan font-style="normal">Cellular Growth and Proliferation</tspan></text>
<line x1="254.42" y1="95.82" x2="261.42" y2="95.82" stroke="#b0183f" stroke-width="1.1"/>
<path d="M259.92,93.52 L265.42,95.82 L259.92,98.12 Z" fill="#b0183f"/>
<rect x="386.40" y="104.88" width="61.10" height="8.20" fill="#115286" stroke="#0c3e6c" stroke-width="0.6"/>
<line x1="383" y1="108.98" x2="385.6" y2="108.98" stroke="#1e1e1e" stroke-width="0.9"/>
<text x="253.40" y="111.68" font-size="8.2" fill="#2b2b2b" font-weight="normal" textLength="126.69" lengthAdjust="spacingAndGlyphs" stroke="#2b2b2b" stroke-width="0.12"><tspan font-style="normal">Cell-To-Cell Signaling and Interaction</tspan></text>
<line x1="238.98" y1="108.98" x2="245.98" y2="108.98" stroke="#b0183f" stroke-width="1.1"/>
<path d="M244.48,106.68 L249.98,108.98 L244.48,111.28 Z" fill="#b0183f"/>
<rect x="386.40" y="118.04" width="60.20" height="8.20" fill="#115286" stroke="#0c3e6c" stroke-width="0.6"/>
<line x1="383" y1="122.14" x2="385.6" y2="122.14" stroke="#1e1e1e" stroke-width="0.9"/>
<text x="306.03" y="124.84" font-size="8.2" fill="#2b2b2b" font-weight="normal" textLength="73.62" lengthAdjust="spacingAndGlyphs" stroke="#2b2b2b" stroke-width="0.12"><tspan font-style="normal">Cellular Development</tspan></text>
<rect x="386.40" y="131.20" width="59.90" height="8.20" fill="#115286" stroke="#0c3e6c" stroke-width="0.6"/>
<line x1="383" y1="135.29999999999998" x2="385.6" y2="135.29999999999998" stroke="#1e1e1e" stroke-width="0.9"/>
<text x="345.30" y="138.00" font-size="8.2" fill="#2b2b2b" font-weight="normal" textLength="34.66" lengthAdjust="spacingAndGlyphs" stroke="#2b2b2b" stroke-width="0.12"><tspan font-style="normal">Cell Cycle</tspan></text>
<rect x="386.40" y="144.36" width="43.90" height="8.20" fill="#115286" stroke="#0c3e6c" stroke-width="0.6"/>
<line x1="383" y1="148.46" x2="385.6" y2="148.46" stroke="#1e1e1e" stroke-width="0.9"/>
<text x="260.94" y="151.16" font-size="8.2" fill="#2b2b2b" font-weight="normal" textLength="119.00" lengthAdjust="spacingAndGlyphs" stroke="#2b2b2b" stroke-width="0.12"><tspan font-style="normal">Cellular Function and Maintenance</tspan></text>
<rect x="386.40" y="157.52" width="39.10" height="8.20" fill="#115286" stroke="#0c3e6c" stroke-width="0.6"/>
<line x1="383" y1="161.62" x2="385.6" y2="161.62" stroke="#1e1e1e" stroke-width="0.9"/>
<text x="226.06" y="164.32" font-size="8.2" fill="#2b2b2b" font-weight="normal" textLength="153.66" lengthAdjust="spacingAndGlyphs" stroke="#2b2b2b" stroke-width="0.12"><tspan font-style="normal">DNA Replication, Recombination, and Repair</tspan></text>
<rect x="386.40" y="170.68" width="37.10" height="8.20" fill="#115286" stroke="#0c3e6c" stroke-width="0.6"/>
<line x1="383" y1="174.78" x2="385.6" y2="174.78" stroke="#1e1e1e" stroke-width="0.9"/>
<text x="258.13" y="177.48" font-size="8.2" fill="#2b2b2b" font-weight="normal" textLength="121.98" lengthAdjust="spacingAndGlyphs" stroke="#2b2b2b" stroke-width="0.12"><tspan font-style="normal">Cellular Assembly and Organization</tspan></text>
<rect x="386.40" y="183.84" width="31.80" height="8.20" fill="#115286" stroke="#0c3e6c" stroke-width="0.6"/>
<line x1="383" y1="187.94" x2="385.6" y2="187.94" stroke="#1e1e1e" stroke-width="0.9"/>
<text x="261.87" y="190.64" font-size="8.2" fill="#2b2b2b" font-weight="normal" textLength="117.99" lengthAdjust="spacingAndGlyphs" stroke="#2b2b2b" stroke-width="0.12"><tspan font-style="normal">Cellular Response to Therapeutics</tspan></text>
<rect x="386.40" y="197.00" width="30.60" height="8.20" fill="#115286" stroke="#0c3e6c" stroke-width="0.6"/>
<line x1="383" y1="201.1" x2="385.6" y2="201.1" stroke="#1e1e1e" stroke-width="0.9"/>
<text x="323.97" y="203.80" font-size="8.2" fill="#2b2b2b" font-weight="normal" textLength="55.64" lengthAdjust="spacingAndGlyphs" stroke="#2b2b2b" stroke-width="0.12"><tspan font-style="normal">Cell Morphology</tspan></text>
<line x1="390.6" y1="55" x2="390.6" y2="209.5" stroke="#efe2a6" stroke-width="0.8"/>
<text x="393.15" y="61.60" font-size="6.4" fill="#f2cc74" font-weight="normal" textLength="33.05" lengthAdjust="spacingAndGlyphs"><tspan font-style="normal">Threshold</tspan></text>
<text x="179.40" y="326.80" font-size="8.3" fill="#2b2b2b" font-weight="normal" textLength="40.32" lengthAdjust="spacingAndGlyphs" stroke="#2b2b2b" stroke-width="0.22"><tspan font-style="normal">–log(</tspan><tspan font-style="italic">P</tspan><tspan font-style="normal">-value)</tspan></text>
<text x="134.13" y="340.10" font-size="7.5" fill="#2b2b2b" font-weight="normal" textLength="4.50" lengthAdjust="spacingAndGlyphs" stroke="#2b2b2b" stroke-width="0.16"><tspan font-style="normal">0</tspan></text>
<line x1="136.4" y1="345.4" x2="136.4" y2="348.1" stroke="#1e1e1e" stroke-width="0.9"/>
<text x="158.64" y="340.10" font-size="7.5" fill="#2b2b2b" font-weight="normal" textLength="9.01" lengthAdjust="spacingAndGlyphs" stroke="#2b2b2b" stroke-width="0.16"><tspan font-style="normal">10</tspan></text>
<line x1="163.3" y1="345.4" x2="163.3" y2="348.1" stroke="#1e1e1e" stroke-width="0.9"/>
<text x="190.84" y="340.10" font-size="7.5" fill="#2b2b2b" font-weight="normal" textLength="9.01" lengthAdjust="spacingAndGlyphs" stroke="#2b2b2b" stroke-width="0.16"><tspan font-style="normal">20</tspan></text>
<line x1="195.4" y1="345.4" x2="195.4" y2="348.1" stroke="#1e1e1e" stroke-width="0.9"/>
<text x="219.88" y="340.10" font-size="7.5" fill="#2b2b2b" font-weight="normal" textLength="9.01" lengthAdjust="spacingAndGlyphs" stroke="#2b2b2b" stroke-width="0.16"><tspan font-style="normal">30</tspan></text>
<line x1="224.4" y1="345.4" x2="224.4" y2="348.1" stroke="#1e1e1e" stroke-width="0.9"/>
<text x="254.77" y="340.10" font-size="7.5" fill="#2b2b2b" font-weight="normal" textLength="9.01" lengthAdjust="spacingAndGlyphs" stroke="#2b2b2b" stroke-width="0.16"><tspan font-style="normal">40</tspan></text>
<line x1="259.2" y1="345.4" x2="259.2" y2="348.1" stroke="#1e1e1e" stroke-width="0.9"/>
<line x1="135.9" y1="348.1" x2="262.3" y2="348.1" stroke="#1e1e1e" stroke-width="1.1"/>
<line x1="136.4" y1="347.6" x2="136.4" y2="582.5" stroke="#1e1e1e" stroke-width="1.1"/>
<rect x="137.20" y="353.00" width="101.70" height="8.20" fill="#115286" stroke="#0c3e6c" stroke-width="0.6"/>
<line x1="133.3" y1="357.09999999999997" x2="136.4" y2="357.09999999999997" stroke="#1e1e1e" stroke-width="0.9"/>
<text x="105.12" y="360.10" font-size="8.2" fill="#2b2b2b" font-weight="normal" textLength="24.82" lengthAdjust="spacingAndGlyphs" stroke="#2b2b2b" stroke-width="0.12"><tspan font-style="normal">Cancer</tspan></text>
<line x1="91.71" y1="357.10" x2="98.71" y2="357.10" stroke="#b0183f" stroke-width="1.1"/>
<path d="M97.21,354.80 L102.71,357.10 L97.21,359.40 Z" fill="#b0183f"/>
<rect x="137.20" y="368.03" width="101.70" height="8.20" fill="#115286" stroke="#0c3e6c" stroke-width="0.6"/>
<line x1="133.3" y1="372.12999999999994" x2="136.4" y2="372.12999999999994" stroke="#1e1e1e" stroke-width="0.9"/>
<text x="6.37" y="375.13" font-size="8.2" fill="#2b2b2b" font-weight="normal" textLength="123.69" lengthAdjust="spacingAndGlyphs" stroke="#2b2b2b" stroke-width="0.12"><tspan font-style="normal">Organismal Injury and Abnormalities</tspan></text>
<rect x="137.20" y="383.06" width="88.90" height="8.20" fill="#115286" stroke="#0c3e6c" stroke-width="0.6"/>
<line x1="133.3" y1="387.15999999999997" x2="136.4" y2="387.15999999999997" stroke="#1e1e1e" stroke-width="0.9"/>
<text x="32.51" y="390.16" font-size="8.2" fill="#2b2b2b" font-weight="normal" textLength="97.57" lengthAdjust="spacingAndGlyphs" stroke="#2b2b2b" stroke-width="0.12"><tspan font-style="normal">Endocrine System Disorders</tspan></text>
<rect x="137.20" y="398.09" width="77.50" height="8.20" fill="#115286" stroke="#0c3e6c" stroke-width="0.6"/>
<line x1="133.3" y1="402.18999999999994" x2="136.4" y2="402.18999999999994" stroke="#1e1e1e" stroke-width="0.9"/>
<text x="51.41" y="405.19" font-size="8.2" fill="#2b2b2b" font-weight="normal" textLength="78.75" lengthAdjust="spacingAndGlyphs" stroke="#2b2b2b" stroke-width="0.12"><tspan font-style="normal">Hematological Disease</tspan></text>
<line x1="38.23" y1="402.19" x2="45.23" y2="402.19" stroke="#b0183f" stroke-width="1.1"/>
<path d="M43.73,399.89 L49.23,402.19 L43.73,404.49 Z" fill="#b0183f"/>
<rect x="137.20" y="413.12" width="77.50" height="8.20" fill="#115286" stroke="#0c3e6c" stroke-width="0.6"/>
<line x1="133.3" y1="417.21999999999997" x2="136.4" y2="417.21999999999997" stroke="#1e1e1e" stroke-width="0.9"/>
<text x="50.57" y="420.22" font-size="8.2" fill="#2b2b2b" font-weight="normal" textLength="79.60" lengthAdjust="spacingAndGlyphs" stroke="#2b2b2b" stroke-width="0.12"><tspan font-style="normal">Immunological Disease</tspan></text>
<rect x="137.20" y="428.15" width="74.80" height="8.20" fill="#115286" stroke="#0c3e6c" stroke-width="0.6"/>
<line x1="133.3" y1="432.24999999999994" x2="136.4" y2="432.24999999999994" stroke="#1e1e1e" stroke-width="0.9"/>
<text x="46.72" y="435.25" font-size="8.2" fill="#2b2b2b" font-weight="normal" textLength="83.46" lengthAdjust="spacingAndGlyphs" stroke="#2b2b2b" stroke-width="0.12"><tspan font-style="normal">Gastrointestinal Disease</tspan></text>
<rect x="137.20" y="443.18" width="74.50" height="8.20" fill="#115286" stroke="#0c3e6c" stroke-width="0.6"/>
<line x1="133.3" y1="447.28" x2="136.4" y2="447.28" stroke="#1e1e1e" stroke-width="0.9"/>
<text x="27.01" y="450.28" font-size="8.2" fill="#2b2b2b" font-weight="normal" textLength="103.14" lengthAdjust="spacingAndGlyphs" stroke="#2b2b2b" stroke-width="0.12"><tspan font-style="normal">Reproductive System Disease</tspan></text>
<rect x="137.20" y="458.21" width="55.00" height="8.20" fill="#115286" stroke="#0c3e6c" stroke-width="0.6"/>
<line x1="133.3" y1="462.30999999999995" x2="136.4" y2="462.30999999999995" stroke="#1e1e1e" stroke-width="0.9"/>
<text x="57.38" y="465.31" font-size="8.2" fill="#2b2b2b" font-weight="normal" textLength="72.76" lengthAdjust="spacingAndGlyphs" stroke="#2b2b2b" stroke-width="0.12"><tspan font-style="normal">Neurological Disease</tspan></text>
<rect x="137.20" y="473.24" width="54.30" height="8.20" fill="#115286" stroke="#0c3e6c" stroke-width="0.6"/>
<line x1="133.3" y1="477.34" x2="136.4" y2="477.34" stroke="#1e1e1e" stroke-width="0.9"/>
<text x="32.05" y="480.34" font-size="8.2" fill="#2b2b2b" font-weight="normal" textLength="98.00" lengthAdjust="spacingAndGlyphs" stroke="#2b2b2b" stroke-width="0.12"><tspan font-style="normal">Connective Tissue Disorders</tspan></text>
<rect x="137.20" y="488.27" width="54.30" height="8.20" fill="#115286" stroke="#0c3e6c" stroke-width="0.6"/>
<line x1="133.3" y1="492.36999999999995" x2="136.4" y2="492.36999999999995" stroke="#1e1e1e" stroke-width="0.9"/>
<text x="55.69" y="495.37" font-size="8.2" fill="#2b2b2b" font-weight="normal" textLength="74.46" lengthAdjust="spacingAndGlyphs" stroke="#2b2b2b" stroke-width="0.12"><tspan font-style="normal">Inflammatory Disease</tspan></text>
<line x1="42.58" y1="492.37" x2="49.58" y2="492.37" stroke="#b0183f" stroke-width="1.1"/>
<path d="M48.08,490.07 L53.58,492.37 L48.08,494.67 Z" fill="#b0183f"/>
<rect x="137.20" y="503.30" width="54.30" height="8.20" fill="#115286" stroke="#0c3e6c" stroke-width="0.6"/>
<line x1="133.3" y1="507.4" x2="136.4" y2="507.4" stroke="#1e1e1e" stroke-width="0.9"/>
<text x="19.23" y="510.40" font-size="8.2" fill="#2b2b2b" font-weight="normal" textLength="110.85" lengthAdjust="spacingAndGlyphs" stroke="#2b2b2b" stroke-width="0.12"><tspan font-style="normal">Skeletal and Muscular Disorders</tspan></text>
<rect x="137.20" y="518.33" width="54.00" height="8.20" fill="#115286" stroke="#0c3e6c" stroke-width="0.6"/>
<line x1="133.3" y1="522.43" x2="136.4" y2="522.43" stroke="#1e1e1e" stroke-width="0.9"/>
<text x="67.24" y="525.43" font-size="8.2" fill="#2b2b2b" font-weight="normal" textLength="62.91" lengthAdjust="spacingAndGlyphs" stroke="#2b2b2b" stroke-width="0.12"><tspan font-style="normal">Metabolic Disease</tspan></text>
<rect x="137.20" y="533.36" width="51.50" height="8.20" fill="#115286" stroke="#0c3e6c" stroke-width="0.6"/>
<line x1="133.3" y1="537.4599999999999" x2="136.4" y2="537.4599999999999" stroke="#1e1e1e" stroke-width="0.9"/>
<text x="48.83" y="540.46" font-size="8.2" fill="#2b2b2b" font-weight="normal" textLength="81.32" lengthAdjust="spacingAndGlyphs" stroke="#2b2b2b" stroke-width="0.12"><tspan font-style="normal">Cardiovascular Disease</tspan></text>
<rect x="137.20" y="548.39" width="51.50" height="8.20" fill="#115286" stroke="#0c3e6c" stroke-width="0.6"/>
<line x1="133.3" y1="552.4899999999999" x2="136.4" y2="552.4899999999999" stroke="#1e1e1e" stroke-width="0.9"/>
<text x="48.83" y="555.49" font-size="8.2" fill="#2b2b2b" font-weight="normal" textLength="81.31" lengthAdjust="spacingAndGlyphs" stroke="#2b2b2b" stroke-width="0.12"><tspan font-style="normal">Inflammatory Response</tspan></text>
<line x1="35.73" y1="552.49" x2="42.73" y2="552.49" stroke="#b0183f" stroke-width="1.1"/>
<path d="M41.23,550.19 L46.73,552.49 L41.23,554.79 Z" fill="#b0183f"/>
<rect x="137.20" y="563.42" width="44.50" height="8.20" fill="#115286" stroke="#0c3e6c" stroke-width="0.6"/>
<line x1="133.3" y1="567.52" x2="136.4" y2="567.52" stroke="#1e1e1e" stroke-width="0.9"/>
<text x="63.20" y="570.52" font-size="8.2" fill="#2b2b2b" font-weight="normal" textLength="66.76" lengthAdjust="spacingAndGlyphs" stroke="#2b2b2b" stroke-width="0.12"><tspan font-style="normal">Hereditary Disorder</tspan></text>
<rect x="344.00" y="307.30" width="5.30" height="5.40" fill="#31a3dc"/>
<rect x="344.00" y="318.80" width="5.30" height="5.50" fill="#5c226d"/>
<text x="352.17" y="312.90" font-size="8.1" fill="#2b2b2b" font-weight="normal" textLength="154.95" lengthAdjust="spacingAndGlyphs" stroke="#2b2b2b" stroke-width="0.12"><tspan font-style="italic">VkMyc:Wwox KO</tspan><tspan font-style="normal">-BM vs </tspan><tspan font-style="italic">VkMyc:Wwox WT</tspan><tspan font-style="normal">-BM</tspan></text>
<text x="352.16" y="324.10" font-size="8.1" fill="#2b2b2b" font-weight="normal" textLength="157.66" lengthAdjust="spacingAndGlyphs" stroke="#2b2b2b" stroke-width="0.12"><tspan font-style="italic">VkMyc:Wwox KO</tspan><tspan font-style="normal">-PBT vs </tspan><tspan font-style="italic">VkMyc:Wwox KO</tspan><tspan font-style="normal">-BM</tspan></text>
<line x1="413.5" y1="330.3" x2="413.5" y2="420.7" stroke="#1e1e1e" stroke-width="1.1"/>
<line x1="413" y1="420.2" x2="506.3" y2="420.2" stroke="#1e1e1e" stroke-width="1.1"/>
<line x1="413.7" y1="420.2" x2="413.7" y2="422.3" stroke="#1e1e1e" stroke-width="0.9"/>
<text x="411.43" y="433.00" font-size="7.5" fill="#2b2b2b" font-weight="normal" textLength="4.50" lengthAdjust="spacingAndGlyphs" stroke="#2b2b2b" stroke-width="0.16"><tspan font-style="normal">0</tspan></text>
<line x1="435.8" y1="420.2" x2="435.8" y2="422.3" stroke="#1e1e1e" stroke-width="0.9"/>
<text x="431.14" y="433.00" font-size="7.5" fill="#2b2b2b" font-weight="normal" textLength="9.01" lengthAdjust="spacingAndGlyphs" stroke="#2b2b2b" stroke-width="0.16"><tspan font-style="normal">10</tspan></text>
<line x1="458.2" y1="420.2" x2="458.2" y2="422.3" stroke="#1e1e1e" stroke-width="0.9"/>
<text x="453.64" y="433.00" font-size="7.5" fill="#2b2b2b" font-weight="normal" textLength="9.01" lengthAdjust="spacingAndGlyphs" stroke="#2b2b2b" stroke-width="0.16"><tspan font-style="normal">20</tspan></text>
<line x1="480.6" y1="420.2" x2="480.6" y2="422.3" stroke="#1e1e1e" stroke-width="0.9"/>
<text x="476.08" y="433.00" font-size="7.5" fill="#2b2b2b" font-weight="normal" textLength="9.01" lengthAdjust="spacingAndGlyphs" stroke="#2b2b2b" stroke-width="0.16"><tspan font-style="normal">30</tspan></text>
<line x1="503.4" y1="420.2" x2="503.4" y2="422.3" stroke="#1e1e1e" stroke-width="0.9"/>
<text x="498.97" y="433.00" font-size="7.5" fill="#2b2b2b" font-weight="normal" textLength="9.01" lengthAdjust="spacingAndGlyphs" stroke="#2b2b2b" stroke-width="0.16"><tspan font-style="normal">40</tspan></text>
<text x="440.30" y="447.20" font-size="8.3" fill="#2b2b2b" font-weight="normal" textLength="39.52" lengthAdjust="spacingAndGlyphs" stroke="#2b2b2b" stroke-width="0.22"><tspan font-style="normal">–log(</tspan><tspan font-style="italic">P</tspan><tspan font-style="normal">-value)</tspan></text>
<rect x="414.00" y="335.20" width="5.60" height="5.40" fill="#31a3dc"/>
<rect x="414.00" y="342.90" width="77.20" height="5.60" fill="#5c226d"/>
<line x1="410.2" y1="341.7" x2="413.5" y2="341.7" stroke="#1e1e1e" stroke-width="0.9"/>
<text x="326.84" y="344.40" font-size="8.2" fill="#2b2b2b" font-weight="normal" textLength="80.46" lengthAdjust="spacingAndGlyphs" stroke="#2b2b2b" stroke-width="0.12"><tspan font-style="normal">Cell Death and Survival</tspan></text>
<text x="422.71" y="339.90" font-size="7.5" fill="#2b2b2b" font-weight="normal" textLength="14.41" lengthAdjust="spacingAndGlyphs" stroke="#2b2b2b" stroke-width="0.15"><tspan font-style="normal">(20)</tspan></text>
<text x="494.31" y="348.50" font-size="7.5" fill="#2b2b2b" font-weight="normal" textLength="18.91" lengthAdjust="spacingAndGlyphs" stroke="#2b2b2b" stroke-width="0.15"><tspan font-style="normal">(819)</tspan></text>
<rect x="414.00" y="357.70" width="7.90" height="5.40" fill="#31a3dc"/>
<rect x="414.00" y="365.40" width="55.70" height="5.60" fill="#5c226d"/>
<line x1="410.2" y1="364.2" x2="413.5" y2="364.2" stroke="#1e1e1e" stroke-width="0.9"/>
<text x="342.66" y="366.90" font-size="8.2" fill="#2b2b2b" font-weight="normal" textLength="64.19" lengthAdjust="spacingAndGlyphs" stroke="#2b2b2b" stroke-width="0.12"><tspan font-style="normal">Cellular Movement</tspan></text>
<text x="425.01" y="362.40" font-size="7.5" fill="#2b2b2b" font-weight="normal" textLength="14.41" lengthAdjust="spacingAndGlyphs" stroke="#2b2b2b" stroke-width="0.15"><tspan font-style="normal">(27)</tspan></text>
<text x="472.81" y="371.00" font-size="7.5" fill="#2b2b2b" font-weight="normal" textLength="18.91" lengthAdjust="spacingAndGlyphs" stroke="#2b2b2b" stroke-width="0.15"><tspan font-style="normal">(602)</tspan></text>
<rect x="414.00" y="380.20" width="13.70" height="5.40" fill="#31a3dc"/>
<rect x="414.00" y="387.90" width="41.40" height="5.60" fill="#5c226d"/>
<line x1="410.2" y1="386.7" x2="413.5" y2="386.7" stroke="#1e1e1e" stroke-width="0.9"/>
<text x="296.04" y="389.40" font-size="8.2" fill="#2b2b2b" font-weight="normal" textLength="111.28" lengthAdjust="spacingAndGlyphs" stroke="#2b2b2b" stroke-width="0.12"><tspan font-style="normal">Cellular Growth and Proliferation</tspan></text>
<text x="430.81" y="384.90" font-size="7.5" fill="#2b2b2b" font-weight="normal" textLength="14.41" lengthAdjust="spacingAndGlyphs" stroke="#2b2b2b" stroke-width="0.15"><tspan font-style="normal">(24)</tspan></text>
<text x="458.51" y="393.50" font-size="7.5" fill="#2b2b2b" font-weight="normal" textLength="18.91" lengthAdjust="spacingAndGlyphs" stroke="#2b2b2b" stroke-width="0.15"><tspan font-style="normal">(690)</tspan></text>
<rect x="414.00" y="402.70" width="13.70" height="5.40" fill="#31a3dc"/>
<rect x="414.00" y="410.40" width="41.40" height="5.60" fill="#5c226d"/>
<line x1="410.2" y1="409.2" x2="413.5" y2="409.2" stroke="#1e1e1e" stroke-width="0.9"/>
<text x="280.60" y="411.90" font-size="8.2" fill="#2b2b2b" font-weight="normal" textLength="126.69" lengthAdjust="spacingAndGlyphs" stroke="#2b2b2b" stroke-width="0.12"><tspan font-style="normal">Cell-to-Cell Signalling and Interaction</tspan></text>
<text x="430.81" y="407.40" font-size="7.5" fill="#2b2b2b" font-weight="normal" textLength="14.41" lengthAdjust="spacingAndGlyphs" stroke="#2b2b2b" stroke-width="0.15"><tspan font-style="normal">(30)</tspan></text>
<text x="458.51" y="416.00" font-size="7.5" fill="#2b2b2b" font-weight="normal" textLength="18.91" lengthAdjust="spacingAndGlyphs" stroke="#2b2b2b" stroke-width="0.15"><tspan font-style="normal">(461)</tspan></text>
<line x1="413.5" y1="474.6" x2="413.5" y2="564.7" stroke="#1e1e1e" stroke-width="1.1"/>
<line x1="413" y1="564.2" x2="506.5" y2="564.2" stroke="#1e1e1e" stroke-width="1.1"/>
<line x1="413.3" y1="564.2" x2="413.3" y2="566.3" stroke="#1e1e1e" stroke-width="0.9"/>
<text x="411.03" y="576.60" font-size="7.5" fill="#2b2b2b" font-weight="normal" textLength="4.50" lengthAdjust="spacingAndGlyphs" stroke="#2b2b2b" stroke-width="0.16"><tspan font-style="normal">0</tspan></text>
<line x1="431.5" y1="564.2" x2="431.5" y2="566.3" stroke="#1e1e1e" stroke-width="0.9"/>
<text x="426.84" y="576.60" font-size="7.5" fill="#2b2b2b" font-weight="normal" textLength="9.01" lengthAdjust="spacingAndGlyphs" stroke="#2b2b2b" stroke-width="0.16"><tspan font-style="normal">10</tspan></text>
<line x1="449.6" y1="564.2" x2="449.6" y2="566.3" stroke="#1e1e1e" stroke-width="0.9"/>
<text x="445.04" y="576.60" font-size="7.5" fill="#2b2b2b" font-weight="normal" textLength="9.01" lengthAdjust="spacingAndGlyphs" stroke="#2b2b2b" stroke-width="0.16"><tspan font-style="normal">20</tspan></text>
<line x1="467.9" y1="564.2" x2="467.9" y2="566.3" stroke="#1e1e1e" stroke-width="0.9"/>
<text x="463.38" y="576.60" font-size="7.5" fill="#2b2b2b" font-weight="normal" textLength="9.01" lengthAdjust="spacingAndGlyphs" stroke="#2b2b2b" stroke-width="0.16"><tspan font-style="normal">30</tspan></text>
<line x1="485.8" y1="564.2" x2="485.8" y2="566.3" stroke="#1e1e1e" stroke-width="0.9"/>
<text x="481.37" y="576.60" font-size="7.5" fill="#2b2b2b" font-weight="normal" textLength="9.01" lengthAdjust="spacingAndGlyphs" stroke="#2b2b2b" stroke-width="0.16"><tspan font-style="normal">40</tspan></text>
<line x1="503.7" y1="564.2" x2="503.7" y2="566.3" stroke="#1e1e1e" stroke-width="0.9"/>
<text x="499.18" y="576.60" font-size="7.5" fill="#2b2b2b" font-weight="normal" textLength="9.01" lengthAdjust="spacingAndGlyphs" stroke="#2b2b2b" stroke-width="0.16"><tspan font-style="normal">50</tspan></text>
<text x="439.90" y="590.20" font-size="8.3" fill="#2b2b2b" font-weight="normal" textLength="40.32" lengthAdjust="spacingAndGlyphs" stroke="#2b2b2b" stroke-width="0.22"><tspan font-style="normal">–log(</tspan><tspan font-style="italic">P</tspan><tspan font-style="normal">-value)</tspan></text>
<rect x="414.00" y="479.00" width="4.10" height="5.40" fill="#31a3dc"/>
<rect x="414.00" y="487.30" width="70.20" height="5.40" fill="#5c226d"/>
<line x1="410.2" y1="485.3" x2="413.5" y2="485.3" stroke="#1e1e1e" stroke-width="0.9"/>
<text x="382.52" y="488.00" font-size="8.2" fill="#2b2b2b" font-weight="normal" textLength="24.82" lengthAdjust="spacingAndGlyphs" stroke="#2b2b2b" stroke-width="0.12"><tspan font-style="normal">Cancer</tspan></text>
<text x="421.41" y="484.10" font-size="7.5" fill="#2b2b2b" font-weight="normal" textLength="14.41" lengthAdjust="spacingAndGlyphs" stroke="#2b2b2b" stroke-width="0.15"><tspan font-style="normal">(28)</tspan></text>
<text x="487.31" y="492.60" font-size="7.5" fill="#2b2b2b" font-weight="normal" textLength="23.42" lengthAdjust="spacingAndGlyphs" stroke="#2b2b2b" stroke-width="0.15"><tspan font-style="normal">(1893)</tspan></text>
<rect x="414.00" y="501.57" width="11.00" height="5.40" fill="#31a3dc"/>
<rect x="414.00" y="509.87" width="53.20" height="5.40" fill="#5c226d"/>
<line x1="410.2" y1="507.87" x2="413.5" y2="507.87" stroke="#1e1e1e" stroke-width="0.9"/>
<text x="328.81" y="510.57" font-size="8.2" fill="#2b2b2b" font-weight="normal" textLength="78.75" lengthAdjust="spacingAndGlyphs" stroke="#2b2b2b" stroke-width="0.12"><tspan font-style="normal">Hematological Disease</tspan></text>
<text x="428.31" y="506.67" font-size="7.5" fill="#2b2b2b" font-weight="normal" textLength="14.41" lengthAdjust="spacingAndGlyphs" stroke="#2b2b2b" stroke-width="0.15"><tspan font-style="normal">(26)</tspan></text>
<text x="470.31" y="515.17" font-size="7.5" fill="#2b2b2b" font-weight="normal" textLength="18.91" lengthAdjust="spacingAndGlyphs" stroke="#2b2b2b" stroke-width="0.15"><tspan font-style="normal">(803)</tspan></text>
<rect x="414.00" y="524.14" width="7.00" height="5.40" fill="#31a3dc"/>
<rect x="414.00" y="532.44" width="37.80" height="5.40" fill="#5c226d"/>
<line x1="410.2" y1="530.44" x2="413.5" y2="530.44" stroke="#1e1e1e" stroke-width="0.9"/>
<text x="333.09" y="533.14" font-size="8.2" fill="#2b2b2b" font-weight="normal" textLength="74.46" lengthAdjust="spacingAndGlyphs" stroke="#2b2b2b" stroke-width="0.12"><tspan font-style="normal">Inflammatory Disease</tspan></text>
<text x="424.31" y="529.24" font-size="7.5" fill="#2b2b2b" font-weight="normal" textLength="14.41" lengthAdjust="spacingAndGlyphs" stroke="#2b2b2b" stroke-width="0.15"><tspan font-style="normal">(18)</tspan></text>
<text x="454.91" y="537.74" font-size="7.5" fill="#2b2b2b" font-weight="normal" textLength="18.91" lengthAdjust="spacingAndGlyphs" stroke="#2b2b2b" stroke-width="0.15"><tspan font-style="normal">(435)</tspan></text>
<rect x="414.00" y="546.71" width="10.40" height="5.40" fill="#31a3dc"/>
<rect x="414.00" y="555.01" width="35.80" height="5.40" fill="#5c226d"/>
<line x1="410.2" y1="553.01" x2="413.5" y2="553.01" stroke="#1e1e1e" stroke-width="0.9"/>
<text x="326.23" y="555.71" font-size="8.2" fill="#2b2b2b" font-weight="normal" textLength="81.31" lengthAdjust="spacingAndGlyphs" stroke="#2b2b2b" stroke-width="0.12"><tspan font-style="normal">Inflammatory Response</tspan></text>
<text x="427.71" y="551.81" font-size="7.5" fill="#2b2b2b" font-weight="normal" textLength="14.41" lengthAdjust="spacingAndGlyphs" stroke="#2b2b2b" stroke-width="0.15"><tspan font-style="normal">(31)</tspan></text>
<text x="452.91" y="560.31" font-size="7.5" fill="#2b2b2b" font-weight="normal" textLength="18.91" lengthAdjust="spacingAndGlyphs" stroke="#2b2b2b" stroke-width="0.15"><tspan font-style="normal">(512)</tspan></text></g>
<rect x="0.5" y="0.5" width="519" height="599" fill="none" stroke="#4a4a4a" stroke-width="1.2"/>
</svg></div></body></html>
